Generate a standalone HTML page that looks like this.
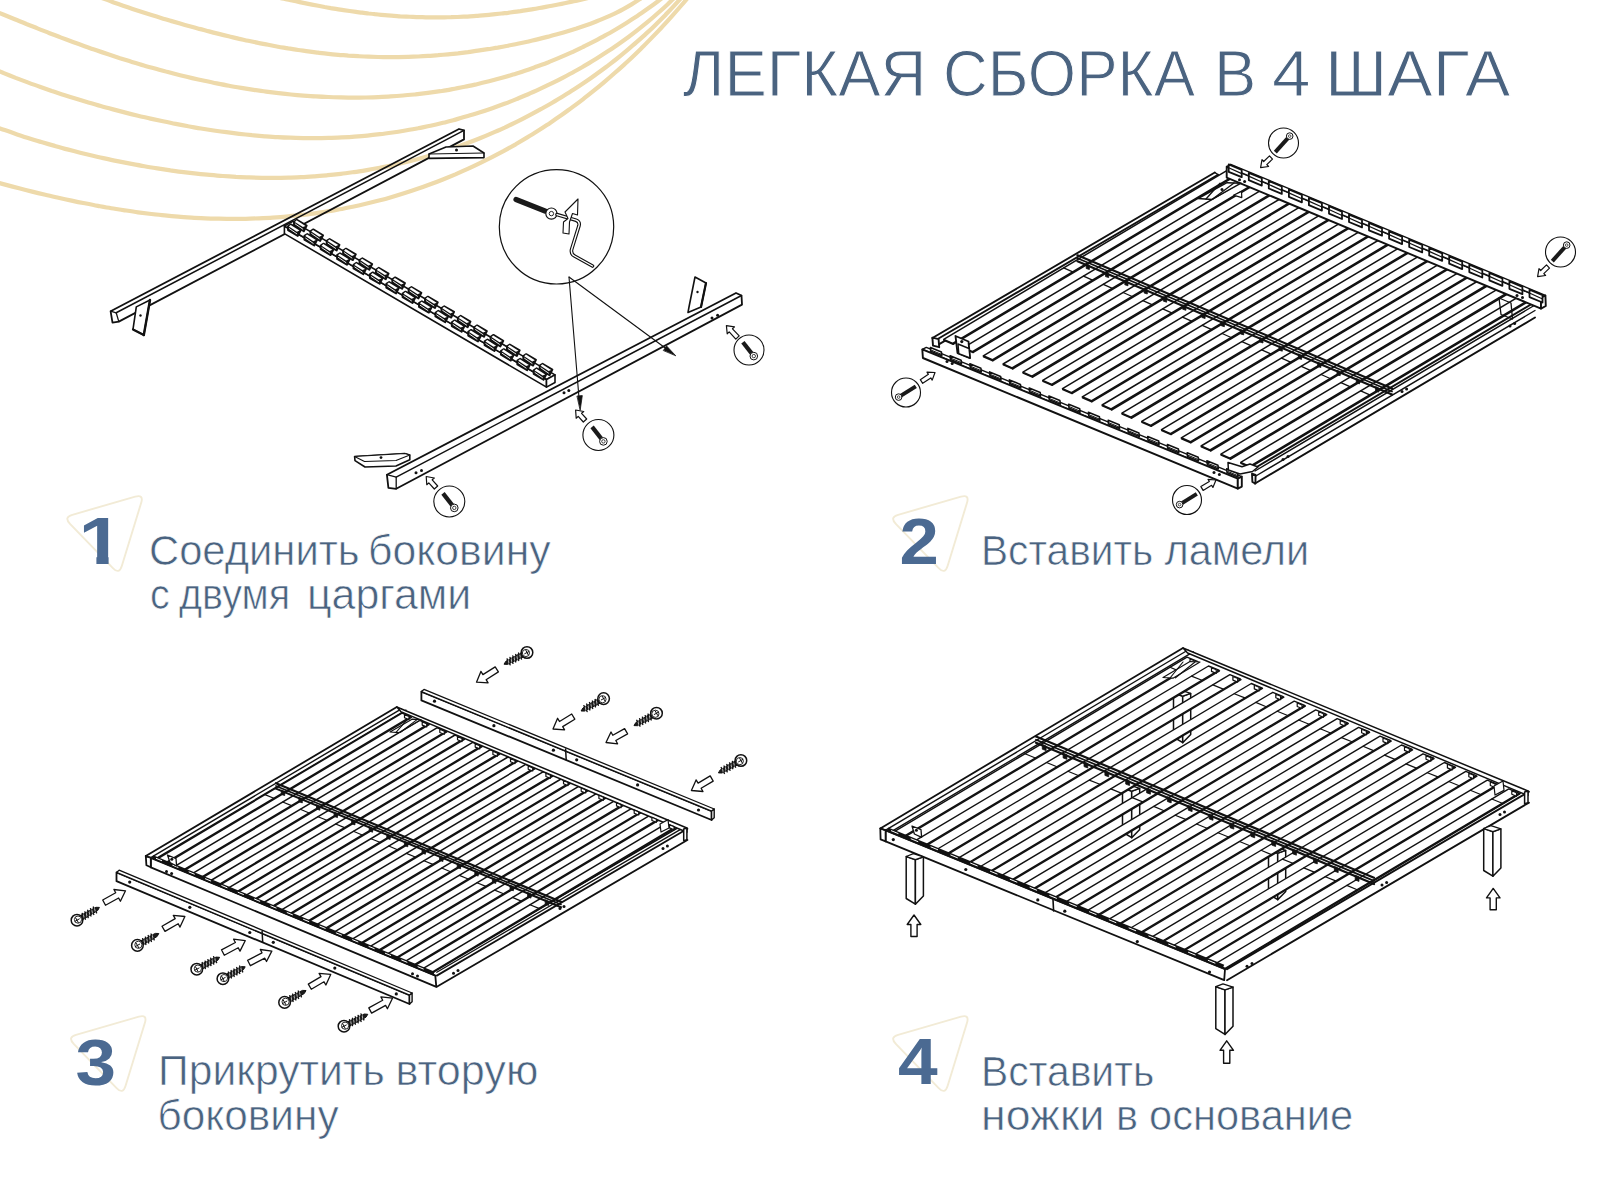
<!DOCTYPE html>
<html lang="ru"><head><meta charset="utf-8"><title>Легкая сборка в 4 шага</title>
<style>
html,body{margin:0;padding:0;background:#fff;}
body{width:1600px;height:1200px;overflow:hidden;}
svg{display:block;font-family:"Liberation Sans",sans-serif;}
</style></head><body>
<svg width="1600" height="1200" viewBox="0 0 1600 1200">
<rect width="1600" height="1200" fill="#ffffff"/>
<g fill="none" stroke="#eedaab" stroke-width="4.2" stroke-linecap="round">
<path d="M-20.0 177.8 C-17.8 178.4 -11.3 180.2 -6.9 181.4 C-2.6 182.6 1.7 183.7 6.1 184.9 C10.4 186.0 14.8 187.2 19.1 188.3 C23.5 189.4 27.8 190.5 32.2 191.6 C36.6 192.7 40.9 193.7 45.3 194.7 C49.7 195.8 54.1 196.8 58.4 197.8 C62.8 198.7 67.2 199.7 71.6 200.6 C76.0 201.6 80.4 202.5 84.8 203.3 C89.2 204.2 93.6 205.1 98.0 205.9 C102.5 206.7 106.9 207.5 111.3 208.2 C115.8 208.9 120.2 209.7 124.6 210.3 C129.1 211.0 133.5 211.7 138.0 212.3 C142.4 212.9 146.9 213.4 151.4 214.0 C155.8 214.5 160.3 215.0 164.8 215.4 C169.3 215.9 173.7 216.3 178.2 216.6 C182.7 217.0 187.2 217.3 191.7 217.6 C196.2 217.9 200.7 218.1 205.2 218.3 C209.7 218.5 214.2 218.6 218.7 218.7 C223.2 218.8 227.6 218.9 232.1 218.9 C236.6 218.9 241.1 218.9 245.6 218.8 C250.1 218.7 254.6 218.5 259.1 218.3 C263.6 218.1 268.1 217.9 272.6 217.6 C277.1 217.3 281.6 217.0 286.0 216.6 C290.5 216.2 295.0 215.7 299.5 215.2 C303.9 214.7 308.4 214.2 312.8 213.6 C317.3 213.0 321.7 212.3 326.2 211.6 C330.6 210.9 335.0 210.1 339.5 209.3 C343.9 208.5 348.3 207.6 352.7 206.7 C357.1 205.8 361.5 204.8 365.8 203.8 C370.2 202.7 374.6 201.6 378.9 200.5 C383.3 199.4 387.6 198.2 391.9 196.9 C396.2 195.7 400.5 194.4 404.8 193.0 C409.1 191.7 413.4 190.3 417.6 188.8 C421.9 187.4 426.1 185.9 430.3 184.3 C434.5 182.8 438.7 181.2 442.9 179.5 C447.1 177.8 451.3 176.1 455.4 174.4 C459.5 172.6 463.6 170.8 467.7 168.9 C471.8 167.1 475.9 165.2 479.9 163.2 C484.0 161.2 488.0 159.2 492.0 157.2 C496.0 155.1 500.0 153.0 503.9 150.9 C507.9 148.7 511.8 146.5 515.7 144.3 C519.6 142.0 523.5 139.7 527.3 137.4 C531.2 135.1 535.0 132.7 538.8 130.3 C542.6 127.9 546.3 125.4 550.1 122.9 C553.8 120.4 557.5 117.8 561.2 115.3 C564.9 112.7 568.5 110.0 572.1 107.4 C575.8 104.7 579.4 102.0 582.9 99.3 C586.5 96.5 590.0 93.7 593.5 90.9 C597.0 88.1 600.5 85.2 603.9 82.3 C607.4 79.4 610.8 76.5 614.1 73.5 C617.5 70.6 620.9 67.6 624.2 64.6 C627.5 61.5 630.8 58.5 634.0 55.4 C637.3 52.3 640.5 49.1 643.7 46.0 C646.9 42.8 650.0 39.6 653.1 36.4 C656.3 33.1 659.4 29.9 662.4 26.6 C665.5 23.3 668.5 20.0 671.5 16.6 C674.5 13.3 677.5 9.9 680.4 6.5 C683.4 3.1 686.3 -0.3 689.1 -3.8 C692.0 -7.3 696.2 -12.6 697.7 -14.3"/>
<path d="M-20.0 120.8 C-17.9 121.6 -11.8 124.1 -7.7 125.6 C-3.5 127.2 0.6 128.7 4.7 130.1 C8.9 131.6 13.0 133.0 17.1 134.4 C21.3 135.8 25.5 137.2 29.6 138.5 C33.8 139.8 38.0 141.1 42.2 142.3 C46.4 143.6 50.6 144.8 54.8 145.9 C59.0 147.1 63.2 148.3 67.4 149.4 C71.7 150.5 75.9 151.6 80.2 152.7 C84.4 153.7 88.7 154.7 92.9 155.7 C97.2 156.7 101.5 157.7 105.7 158.6 C110.0 159.6 114.3 160.5 118.6 161.4 C122.9 162.2 127.2 163.1 131.5 163.9 C135.8 164.7 140.1 165.5 144.4 166.2 C148.8 167.0 153.1 167.7 157.4 168.4 C161.8 169.1 166.1 169.7 170.4 170.4 C174.8 171.0 179.1 171.6 183.5 172.1 C187.8 172.7 192.2 173.2 196.6 173.6 C200.9 174.1 205.3 174.6 209.7 174.9 C214.0 175.3 218.4 175.7 222.8 176.0 C227.2 176.3 231.5 176.6 235.9 176.9 C240.3 177.1 244.7 177.3 249.1 177.4 C253.4 177.6 257.8 177.7 262.2 177.8 C266.6 177.8 271.0 177.8 275.3 177.8 C279.7 177.8 284.1 177.7 288.5 177.6 C292.9 177.5 297.2 177.3 301.6 177.1 C306.0 176.9 310.3 176.6 314.7 176.3 C319.1 176.0 323.4 175.6 327.8 175.2 C332.1 174.8 336.5 174.3 340.8 173.8 C345.2 173.3 349.5 172.7 353.9 172.1 C358.2 171.5 362.5 170.8 366.8 170.1 C371.1 169.4 375.5 168.6 379.8 167.8 C384.1 167.0 388.3 166.1 392.6 165.2 C396.9 164.2 401.2 163.2 405.4 162.2 C409.7 161.2 413.9 160.1 418.2 158.9 C422.4 157.8 426.6 156.6 430.8 155.4 C435.0 154.1 439.2 152.8 443.4 151.5 C447.6 150.2 451.7 148.8 455.9 147.3 C460.0 145.9 464.1 144.4 468.2 142.8 C472.3 141.3 476.4 139.7 480.5 138.0 C484.6 136.4 488.6 134.7 492.6 132.9 C496.7 131.2 500.7 129.4 504.7 127.6 C508.7 125.7 512.6 123.8 516.6 121.9 C520.5 120.0 524.4 118.0 528.3 115.9 C532.2 113.9 536.1 111.8 539.9 109.7 C543.8 107.6 547.6 105.4 551.4 103.2 C555.2 101.0 559.0 98.8 562.7 96.5 C566.4 94.2 570.1 91.9 573.8 89.5 C577.5 87.1 581.1 84.7 584.8 82.2 C588.4 79.8 592.0 77.3 595.5 74.7 C599.1 72.2 602.6 69.6 606.1 67.0 C609.6 64.3 613.1 61.7 616.5 59.0 C619.9 56.2 623.3 53.5 626.7 50.7 C630.0 47.9 633.3 45.1 636.6 42.2 C639.9 39.3 643.2 36.4 646.4 33.4 C649.6 30.5 652.8 27.5 655.9 24.4 C659.0 21.4 662.1 18.3 665.2 15.2 C668.2 12.0 671.3 8.8 674.2 5.6 C677.2 2.4 680.2 -0.9 683.1 -4.3 C686.0 -7.6 690.2 -12.8 691.6 -14.4"/>
<path d="M-20.0 62.7 C-18.0 63.6 -12.1 66.3 -8.1 68.0 C-4.2 69.8 -0.2 71.4 3.8 73.1 C7.8 74.7 11.7 76.3 15.7 77.9 C19.7 79.4 23.7 80.9 27.7 82.4 C31.7 83.9 35.7 85.4 39.8 86.8 C43.8 88.2 47.8 89.6 51.8 91.0 C55.9 92.3 59.9 93.7 64.0 95.0 C68.0 96.3 72.1 97.6 76.2 98.8 C80.3 100.1 84.3 101.3 88.4 102.5 C92.5 103.7 96.6 104.9 100.7 106.0 C104.9 107.2 109.0 108.3 113.1 109.4 C117.2 110.5 121.4 111.6 125.5 112.6 C129.7 113.7 133.8 114.7 138.0 115.7 C142.1 116.7 146.3 117.6 150.5 118.6 C154.7 119.5 158.9 120.4 163.0 121.3 C167.2 122.2 171.4 123.1 175.7 123.9 C179.9 124.7 184.1 125.5 188.3 126.3 C192.5 127.0 196.7 127.8 201.0 128.5 C205.2 129.2 209.4 129.8 213.7 130.5 C217.9 131.1 222.2 131.7 226.4 132.2 C230.7 132.8 234.9 133.3 239.2 133.8 C243.5 134.3 247.7 134.7 252.0 135.2 C256.2 135.6 260.5 135.9 264.8 136.3 C269.1 136.6 273.3 136.9 277.6 137.1 C281.9 137.4 286.2 137.6 290.4 137.7 C294.7 137.9 299.0 138.0 303.3 138.1 C307.5 138.1 311.8 138.2 316.1 138.1 C320.4 138.1 324.6 138.0 328.9 137.9 C333.2 137.8 337.5 137.6 341.7 137.4 C346.0 137.2 350.3 137.0 354.5 136.6 C358.8 136.3 363.0 136.0 367.3 135.6 C371.5 135.2 375.8 134.7 380.0 134.2 C384.3 133.7 388.5 133.1 392.7 132.5 C396.9 131.9 401.2 131.2 405.4 130.5 C409.6 129.8 413.8 129.1 418.0 128.3 C422.2 127.4 426.4 126.6 430.5 125.7 C434.7 124.8 438.9 123.8 443.0 122.8 C447.2 121.8 451.3 120.7 455.5 119.6 C459.6 118.5 463.7 117.3 467.8 116.1 C471.9 114.9 476.0 113.6 480.1 112.3 C484.2 111.0 488.3 109.6 492.3 108.2 C496.3 106.8 500.4 105.3 504.4 103.8 C508.4 102.3 512.4 100.7 516.4 99.1 C520.3 97.5 524.3 95.9 528.2 94.2 C532.2 92.5 536.1 90.7 540.0 88.9 C543.9 87.1 547.8 85.3 551.6 83.4 C555.5 81.5 559.3 79.6 563.1 77.6 C566.9 75.6 570.7 73.6 574.4 71.5 C578.2 69.5 581.9 67.3 585.6 65.2 C589.3 63.0 593.0 60.8 596.6 58.5 C600.2 56.3 603.8 54.0 607.4 51.6 C611.0 49.3 614.5 46.9 618.0 44.5 C621.5 42.0 625.0 39.5 628.5 37.0 C631.9 34.5 635.3 31.9 638.7 29.2 C642.0 26.6 645.3 23.9 648.6 21.2 C651.9 18.5 655.1 15.7 658.3 12.8 C661.5 10.0 664.7 7.1 667.8 4.2 C670.9 1.2 673.9 -1.8 676.9 -4.9 C679.9 -7.9 684.3 -12.7 685.8 -14.2"/>
<path d="M-20.0 4.8 C-18.1 5.6 -12.3 8.1 -8.4 9.7 C-4.5 11.3 -0.6 12.9 3.2 14.5 C7.1 16.1 11.0 17.7 14.8 19.3 C18.7 20.9 22.6 22.4 26.4 24.0 C30.3 25.5 34.1 27.1 38.0 28.6 C41.9 30.1 45.7 31.7 49.6 33.2 C53.5 34.7 57.4 36.1 61.2 37.6 C65.1 39.1 69.0 40.5 72.9 42.0 C76.8 43.4 80.7 44.8 84.6 46.2 C88.5 47.6 92.4 49.0 96.4 50.3 C100.3 51.7 104.2 53.0 108.2 54.3 C112.1 55.6 116.1 56.9 120.0 58.2 C124.0 59.4 127.9 60.7 131.9 61.9 C135.9 63.1 139.9 64.3 143.9 65.4 C147.9 66.6 151.9 67.7 155.9 68.8 C159.9 70.0 163.9 71.0 167.9 72.1 C172.0 73.2 176.0 74.2 180.1 75.2 C184.1 76.2 188.2 77.2 192.2 78.1 C196.3 79.0 200.3 79.9 204.4 80.8 C208.5 81.7 212.6 82.6 216.7 83.4 C220.8 84.2 224.9 85.0 229.0 85.7 C233.1 86.5 237.2 87.2 241.3 87.9 C245.4 88.6 249.5 89.2 253.7 89.9 C257.8 90.5 261.9 91.1 266.1 91.6 C270.2 92.2 274.3 92.7 278.5 93.1 C282.6 93.6 286.8 94.1 290.9 94.5 C295.1 94.9 299.2 95.2 303.4 95.6 C307.5 95.9 311.7 96.2 315.8 96.4 C320.0 96.7 324.2 96.9 328.3 97.0 C332.5 97.2 336.6 97.3 340.8 97.4 C345.0 97.5 349.1 97.6 353.3 97.6 C357.4 97.6 361.6 97.5 365.7 97.5 C369.9 97.4 374.1 97.3 378.2 97.1 C382.4 96.9 386.5 96.7 390.6 96.4 C394.8 96.2 398.9 95.9 403.1 95.5 C407.2 95.2 411.3 94.8 415.5 94.4 C419.6 93.9 423.7 93.4 427.8 92.9 C431.9 92.4 436.1 91.8 440.2 91.2 C444.3 90.5 448.4 89.9 452.4 89.1 C456.5 88.4 460.6 87.6 464.7 86.8 C468.8 86.0 472.8 85.1 476.9 84.2 C480.9 83.3 485.0 82.3 489.0 81.3 C493.0 80.3 497.1 79.2 501.1 78.1 C505.1 77.0 509.1 75.8 513.0 74.6 C517.0 73.3 521.0 72.1 524.9 70.7 C528.9 69.4 532.8 68.0 536.8 66.6 C540.7 65.2 544.6 63.7 548.5 62.2 C552.4 60.6 556.2 59.1 560.1 57.4 C563.9 55.8 567.8 54.1 571.6 52.4 C575.4 50.6 579.2 48.9 582.9 47.0 C586.7 45.2 590.4 43.3 594.1 41.4 C597.9 39.4 601.5 37.5 605.2 35.4 C608.9 33.4 612.5 31.3 616.1 29.2 C619.7 27.1 623.3 24.9 626.8 22.7 C630.3 20.4 633.8 18.2 637.3 15.9 C640.8 13.6 644.2 11.2 647.6 8.8 C651.0 6.4 654.3 4.0 657.6 1.5 C660.9 -1.0 664.2 -3.5 667.4 -6.0 C670.6 -8.6 675.3 -12.5 676.9 -13.8"/>
<path d="M84.9 -8.5 C86.5 -7.9 91.3 -5.9 94.6 -4.7 C97.8 -3.5 101.0 -2.3 104.1 -1.1 C107.3 0.1 110.5 1.3 113.7 2.4 C116.8 3.5 120.0 4.6 123.1 5.7 C126.3 6.8 129.4 7.8 132.6 8.9 C135.7 9.9 138.9 11.0 142.0 12.0 C145.2 13.0 148.3 14.0 151.5 15.0 C154.6 16.0 157.8 17.0 161.0 17.9 C164.1 18.9 167.3 19.8 170.5 20.8 C173.7 21.7 176.9 22.6 180.1 23.5 C183.3 24.5 186.5 25.4 189.7 26.2 C192.9 27.1 196.1 28.0 199.3 28.9 C202.6 29.7 205.8 30.6 209.0 31.4 C212.3 32.3 215.5 33.1 218.8 33.9 C222.1 34.7 225.3 35.5 228.6 36.3 C231.9 37.1 235.2 37.8 238.4 38.6 C241.7 39.3 245.0 40.1 248.3 40.8 C251.6 41.5 254.9 42.2 258.3 42.9 C261.6 43.5 264.9 44.2 268.2 44.8 C271.5 45.5 274.9 46.1 278.2 46.7 C281.5 47.3 284.8 47.8 288.2 48.4 C291.5 48.9 294.8 49.5 298.2 50.0 C301.5 50.5 304.9 50.9 308.2 51.4 C311.5 51.9 314.9 52.3 318.2 52.7 C321.6 53.1 324.9 53.5 328.3 53.8 C331.6 54.2 334.9 54.5 338.3 54.8 C341.6 55.1 345.0 55.3 348.3 55.6 C351.6 55.8 355.0 56.0 358.3 56.2 C361.7 56.4 365.0 56.6 368.3 56.7 C371.7 56.8 375.0 56.9 378.3 57.0 C381.7 57.0 385.0 57.1 388.3 57.1 C391.6 57.1 395.0 57.1 398.3 57.1 C401.6 57.0 404.9 56.9 408.3 56.8 C411.6 56.7 414.9 56.6 418.2 56.5 C421.5 56.3 424.9 56.1 428.2 55.9 C431.5 55.7 434.8 55.4 438.1 55.2 C441.4 54.9 444.8 54.6 448.1 54.3 C451.4 54.0 454.7 53.6 458.0 53.3 C461.3 52.9 464.6 52.5 468.0 52.1 C471.3 51.6 474.6 51.2 477.9 50.7 C481.2 50.2 484.5 49.7 487.8 49.2 C491.1 48.7 494.4 48.1 497.8 47.6 C501.1 47.0 504.4 46.4 507.7 45.8 C511.0 45.1 514.3 44.5 517.6 43.8 C520.9 43.1 524.2 42.4 527.5 41.7 C530.8 40.9 534.1 40.2 537.4 39.4 C540.7 38.6 544.0 37.8 547.3 36.9 C550.5 36.1 553.8 35.2 557.1 34.3 C560.3 33.4 563.6 32.5 566.8 31.5 C570.1 30.5 573.3 29.5 576.5 28.5 C579.7 27.4 582.9 26.3 586.1 25.2 C589.3 24.1 592.5 22.9 595.6 21.7 C598.7 20.5 601.8 19.2 604.9 17.9 C608.0 16.6 611.0 15.2 614.0 13.8 C617.0 12.3 620.0 10.9 622.9 9.3 C625.9 7.7 628.8 6.1 631.6 4.4 C634.4 2.7 637.2 0.9 639.9 -0.9 C642.6 -2.8 645.2 -4.7 647.8 -6.8 C650.4 -8.8 654.0 -12.2 655.3 -13.2"/>
<path d="M250.0 -9.1 C251.1 -8.8 254.1 -8.1 256.2 -7.6 C258.2 -7.1 260.3 -6.6 262.4 -6.1 C264.4 -5.7 266.5 -5.2 268.5 -4.7 C270.6 -4.2 272.6 -3.7 274.7 -3.3 C276.8 -2.8 278.8 -2.3 280.9 -1.9 C283.0 -1.4 285.0 -1.0 287.1 -0.5 C289.2 -0.1 291.3 0.4 293.3 0.8 C295.4 1.3 297.5 1.7 299.6 2.1 C301.6 2.6 303.7 3.0 305.8 3.4 C307.9 3.8 310.0 4.2 312.0 4.6 C314.1 5.0 316.2 5.4 318.3 5.8 C320.4 6.2 322.5 6.6 324.6 7.0 C326.6 7.3 328.7 7.7 330.8 8.1 C332.9 8.4 335.0 8.8 337.1 9.1 C339.2 9.4 341.3 9.8 343.4 10.1 C345.5 10.4 347.6 10.7 349.7 11.0 C351.8 11.3 353.9 11.6 356.0 11.9 C358.1 12.2 360.2 12.4 362.3 12.7 C364.4 13.0 366.5 13.2 368.6 13.5 C370.7 13.7 372.8 13.9 374.9 14.2 C377.0 14.4 379.1 14.6 381.2 14.8 C383.3 15.0 385.4 15.2 387.6 15.3 C389.7 15.5 391.8 15.7 393.9 15.8 C396.0 16.0 398.1 16.1 400.2 16.3 C402.3 16.4 404.4 16.5 406.6 16.6 C408.7 16.7 410.8 16.8 412.9 16.9 C415.0 17.0 417.1 17.1 419.2 17.1 C421.3 17.2 423.5 17.2 425.6 17.3 C427.7 17.3 429.8 17.3 431.9 17.4 C434.0 17.4 436.1 17.4 438.3 17.4 C440.4 17.4 442.5 17.3 444.6 17.3 C446.7 17.3 448.8 17.2 451.0 17.2 C453.1 17.1 455.2 17.0 457.3 17.0 C459.4 16.9 461.5 16.8 463.6 16.7 C465.7 16.6 467.9 16.5 470.0 16.3 C472.1 16.2 474.2 16.1 476.3 15.9 C478.4 15.7 480.5 15.6 482.6 15.4 C484.8 15.2 486.9 15.0 489.0 14.8 C491.1 14.7 493.2 14.4 495.3 14.2 C497.4 14.0 499.5 13.8 501.6 13.5 C503.7 13.3 505.8 13.0 507.9 12.8 C510.0 12.5 512.1 12.2 514.2 11.9 C516.3 11.7 518.4 11.4 520.5 11.1 C522.6 10.7 524.7 10.4 526.8 10.1 C528.9 9.8 531.0 9.4 533.1 9.1 C535.2 8.8 537.3 8.4 539.4 8.0 C541.5 7.7 543.6 7.3 545.7 6.9 C547.8 6.5 549.8 6.1 551.9 5.7 C554.0 5.3 556.1 4.9 558.2 4.5 C560.3 4.1 562.3 3.7 564.4 3.2 C566.5 2.8 568.6 2.4 570.6 1.9 C572.7 1.5 574.8 1.0 576.9 0.6 C578.9 0.1 581.0 -0.4 583.1 -0.9 C585.1 -1.3 587.2 -1.8 589.3 -2.3 C591.3 -2.8 593.4 -3.3 595.4 -3.8 C597.5 -4.3 599.5 -4.8 601.6 -5.3 C603.6 -5.8 605.7 -6.3 607.7 -6.8 C609.8 -7.3 611.8 -7.8 613.9 -8.4 C615.9 -8.9 619.0 -9.7 620.0 -10.0"/>
</g>
<path d="M70.0 523.8 Q63.7 517.3 72.3 514.8 L135.2 496.7 Q143.8 494.2 141.2 502.8 L121.8 566.0 Q119.2 574.6 112.9 568.1 Z" fill="none" stroke="#f2ebd6" stroke-width="1.9"/>
<path d="M895.8 523.8 Q889.5 517.3 898.1 514.8 L961.0 496.7 Q969.6 494.2 967.0 502.8 L947.6 566.0 Q945.0 574.6 938.7 568.1 Z" fill="none" stroke="#f2ebd6" stroke-width="1.9"/>
<path d="M73.7 1043.8 Q67.4 1037.3 76.0 1034.8 L138.9 1016.7 Q147.5 1014.2 144.9 1022.8 L125.5 1086.0 Q122.9 1094.6 116.6 1088.1 Z" fill="none" stroke="#f2ebd6" stroke-width="1.9"/>
<path d="M895.8 1043.8 Q889.5 1037.3 898.1 1034.8 L961.0 1016.7 Q969.6 1014.2 967.0 1022.8 L947.6 1086.0 Q945.0 1094.6 938.7 1088.1 Z" fill="none" stroke="#f2ebd6" stroke-width="1.9"/>
<clipPath id="c1"><rect x="60" y="500" width="80" height="56.4"/><rect x="96.4" y="556" width="12.2" height="10"/></clipPath>
<text x="78.6" y="564.2" font-size="66.7" font-weight="bold" fill="#4b6a92" textLength="44.5" lengthAdjust="spacingAndGlyphs" clip-path="url(#c1)">1</text>
<text x="682.8" y="96.0" font-size="64.0" font-weight="normal" fill="#4a6380" textLength="243.5" lengthAdjust="spacingAndGlyphs" stroke="#fff" stroke-width="1.00">ЛЕГКАЯ</text>
<text x="943.0" y="96.0" font-size="64.0" font-weight="normal" fill="#4a6380" textLength="252.1" lengthAdjust="spacingAndGlyphs" stroke="#fff" stroke-width="1.00">СБОРКА</text>
<text x="1214.0" y="96.0" font-size="64.0" font-weight="normal" fill="#4a6380" textLength="42.3" lengthAdjust="spacingAndGlyphs" stroke="#fff" stroke-width="1.00">В</text>
<text x="1272.0" y="96.0" font-size="64.0" font-weight="normal" fill="#4a6380" textLength="38.5" lengthAdjust="spacingAndGlyphs" stroke="#fff" stroke-width="1.00">4</text>
<text x="1325.0" y="96.0" font-size="64.0" font-weight="normal" fill="#4a6380" textLength="185.3" lengthAdjust="spacingAndGlyphs" stroke="#fff" stroke-width="1.00">ШАГА</text>
<text x="149.0" y="564.5" font-size="42.5" font-weight="normal" fill="#4a6380" textLength="210.6" lengthAdjust="spacingAndGlyphs" stroke="#fff" stroke-width="0.65">Соединить</text>
<text x="368.0" y="564.5" font-size="42.5" font-weight="normal" fill="#4a6380" textLength="182.6" lengthAdjust="spacingAndGlyphs" stroke="#fff" stroke-width="0.65">боковину</text>
<text x="150.0" y="609.0" font-size="42.5" font-weight="normal" fill="#4a6380" textLength="19.7" lengthAdjust="spacingAndGlyphs" stroke="#fff" stroke-width="0.65">с</text>
<text x="179.0" y="609.0" font-size="42.5" font-weight="normal" fill="#4a6380" textLength="111.1" lengthAdjust="spacingAndGlyphs" stroke="#fff" stroke-width="0.65">двумя</text>
<text x="307.0" y="609.0" font-size="42.5" font-weight="normal" fill="#4a6380" textLength="164.3" lengthAdjust="spacingAndGlyphs" stroke="#fff" stroke-width="0.65">царгами</text>
<text x="981.0" y="564.5" font-size="42.5" font-weight="normal" fill="#4a6380" textLength="172.2" lengthAdjust="spacingAndGlyphs" stroke="#fff" stroke-width="0.65">Вставить</text>
<text x="1164.5" y="564.5" font-size="42.5" font-weight="normal" fill="#4a6380" textLength="144.6" lengthAdjust="spacingAndGlyphs" stroke="#fff" stroke-width="0.65">ламели</text>
<text x="158.0" y="1085.2" font-size="42.5" font-weight="normal" fill="#4a6380" textLength="226.7" lengthAdjust="spacingAndGlyphs" stroke="#fff" stroke-width="0.65">Прикрутить</text>
<text x="395.5" y="1085.2" font-size="42.5" font-weight="normal" fill="#4a6380" textLength="142.8" lengthAdjust="spacingAndGlyphs" stroke="#fff" stroke-width="0.65">вторую</text>
<text x="157.5" y="1129.7" font-size="42.5" font-weight="normal" fill="#4a6380" textLength="181.1" lengthAdjust="spacingAndGlyphs" stroke="#fff" stroke-width="0.65">боковину</text>
<text x="981.0" y="1085.5" font-size="42.5" font-weight="normal" fill="#4a6380" textLength="173.2" lengthAdjust="spacingAndGlyphs" stroke="#fff" stroke-width="0.65">Вставить</text>
<text x="981.0" y="1130.0" font-size="42.5" font-weight="normal" fill="#4a6380" textLength="123.4" lengthAdjust="spacingAndGlyphs" stroke="#fff" stroke-width="0.65">ножки</text>
<text x="1116.0" y="1130.0" font-size="42.5" font-weight="normal" fill="#4a6380" textLength="22.0" lengthAdjust="spacingAndGlyphs" stroke="#fff" stroke-width="0.65">в</text>
<text x="1149.0" y="1130.0" font-size="42.5" font-weight="normal" fill="#4a6380" textLength="204.1" lengthAdjust="spacingAndGlyphs" stroke="#fff" stroke-width="0.65">основание</text>
<text x="899.5" y="564.2" font-size="65.0" font-weight="bold" fill="#4b6a92" textLength="39.3" lengthAdjust="spacingAndGlyphs">2</text>
<text x="75.5" y="1084.9" font-size="65.0" font-weight="bold" fill="#4b6a92" textLength="40.5" lengthAdjust="spacingAndGlyphs">3</text>
<text x="898.0" y="1084.2" font-size="65.0" font-weight="bold" fill="#4b6a92" textLength="39.7" lengthAdjust="spacingAndGlyphs">4</text>
<g id="step1">
<path d="M110.6 311.2 L459.0 129.0 L464.0 130.4 L464.0 139.4 L118.8 321.6 L112.5 322.6 Z" fill="none" stroke="#111" stroke-width="1.80" stroke-linejoin="round" stroke-linecap="round"/>
<line x1="116.2" y1="312.8" x2="464.0" y2="130.4" stroke="#111" stroke-width="1.53" stroke-linecap="round"/>
<path d="M110.6 311.2 L116.2 312.8 L118.8 321.6" fill="none" stroke="#111" stroke-width="1.30" stroke-linejoin="round" stroke-linecap="round"/>
<path d="M429.0 154.0 L446.0 147.0 L473.0 146.0 L484.0 153.0 L484.0 157.6 L429.0 158.4 Z" fill="#fff" stroke="#111" stroke-width="1.60" stroke-linejoin="round" stroke-linecap="round"/>
<line x1="429.0" y1="154.0" x2="484.0" y2="153.0" stroke="#111" stroke-width="1.10" stroke-linecap="round"/>
<circle cx="456.5" cy="150.0" r="1.5" fill="#111"/>
<path d="M136.3 306.9 L150.0 300.0 L143.8 335.0 L133.0 329.4 Z" fill="#fff" stroke="#111" stroke-width="1.60" stroke-linejoin="round" stroke-linecap="round"/>
<line x1="150.0" y1="300.0" x2="143.8" y2="335.0" stroke="#111" stroke-width="2.40" stroke-linecap="round"/>
<line x1="133.0" y1="329.4" x2="143.8" y2="335.0" stroke="#111" stroke-width="2.20" stroke-linecap="round"/>
<circle cx="140.5" cy="315.5" r="1.2" fill="#111"/>
<path d="M284.4 226.0 L546.5 379.5 L546.5 387.1 L284.4 233.6 Z" fill="#fff" stroke="#111" stroke-width="1.60" stroke-linejoin="round" stroke-linecap="round"/>
<path d="M284.4 226.0 L546.5 379.5 L555.0 374.9 L292.9 221.4 Z" fill="#fff" stroke="#111" stroke-width="1.60" stroke-linejoin="round" stroke-linecap="round"/>
<path d="M546.5 379.5 L555.0 374.9 L555.0 382.5 L546.5 387.1 Z" fill="#fff" stroke="#111" stroke-width="1.60" stroke-linejoin="round" stroke-linecap="round"/>
<path d="M294.0 221.7 L296.9 219.8 L306.7 225.6 L303.8 231.3 L294.0 225.5 Z" fill="#111" stroke="#111" stroke-width="1.90" stroke-linejoin="round" stroke-linecap="round"/>
<path d="M294.9 221.9 L296.6 220.3 L305.5 226.0 L302.9 227.1 Z" fill="#fff" stroke="none" stroke-width="0.00" stroke-linejoin="round" stroke-linecap="round"/>
<line x1="295.3" y1="224.0" x2="302.8" y2="229.2" stroke="#fff" stroke-width="0.90" stroke-linecap="round"/>
<path d="M288.0 226.3 L290.9 224.4 L300.7 230.2 L297.8 235.9 L288.0 230.1 Z" fill="#111" stroke="#111" stroke-width="1.90" stroke-linejoin="round" stroke-linecap="round"/>
<path d="M288.9 226.5 L290.6 224.9 L299.5 230.6 L296.9 231.7 Z" fill="#fff" stroke="none" stroke-width="0.00" stroke-linejoin="round" stroke-linecap="round"/>
<line x1="289.3" y1="228.6" x2="296.8" y2="233.8" stroke="#fff" stroke-width="0.90" stroke-linecap="round"/>
<path d="M310.4 231.3 L313.3 229.4 L323.1 235.2 L320.2 240.9 L310.4 235.1 Z" fill="#111" stroke="#111" stroke-width="1.90" stroke-linejoin="round" stroke-linecap="round"/>
<path d="M311.3 231.5 L313.0 229.9 L321.9 235.5 L319.3 236.7 Z" fill="#fff" stroke="none" stroke-width="0.00" stroke-linejoin="round" stroke-linecap="round"/>
<line x1="311.7" y1="233.6" x2="319.2" y2="238.8" stroke="#fff" stroke-width="0.90" stroke-linecap="round"/>
<path d="M304.4 235.9 L307.3 234.0 L317.1 239.8 L314.2 245.5 L304.4 239.7 Z" fill="#111" stroke="#111" stroke-width="1.90" stroke-linejoin="round" stroke-linecap="round"/>
<path d="M305.3 236.1 L307.0 234.5 L315.9 240.1 L313.3 241.3 Z" fill="#fff" stroke="none" stroke-width="0.00" stroke-linejoin="round" stroke-linecap="round"/>
<line x1="305.7" y1="238.2" x2="313.2" y2="243.4" stroke="#fff" stroke-width="0.90" stroke-linecap="round"/>
<path d="M326.7 240.9 L329.6 239.0 L339.5 244.8 L336.6 250.5 L326.7 244.7 Z" fill="#111" stroke="#111" stroke-width="1.90" stroke-linejoin="round" stroke-linecap="round"/>
<path d="M327.6 241.1 L329.3 239.5 L338.3 245.1 L335.7 246.3 Z" fill="#fff" stroke="none" stroke-width="0.00" stroke-linejoin="round" stroke-linecap="round"/>
<line x1="328.0" y1="243.2" x2="335.6" y2="248.4" stroke="#fff" stroke-width="0.90" stroke-linecap="round"/>
<path d="M320.7 245.5 L323.6 243.6 L333.5 249.4 L330.6 255.1 L320.7 249.3 Z" fill="#111" stroke="#111" stroke-width="1.90" stroke-linejoin="round" stroke-linecap="round"/>
<path d="M321.6 245.7 L323.3 244.1 L332.3 249.7 L329.7 250.9 Z" fill="#fff" stroke="none" stroke-width="0.00" stroke-linejoin="round" stroke-linecap="round"/>
<line x1="322.0" y1="247.8" x2="329.6" y2="253.0" stroke="#fff" stroke-width="0.90" stroke-linecap="round"/>
<path d="M343.1 250.5 L346.0 248.6 L355.8 254.4 L352.9 260.1 L343.1 254.3 Z" fill="#111" stroke="#111" stroke-width="1.90" stroke-linejoin="round" stroke-linecap="round"/>
<path d="M344.0 250.7 L345.7 249.1 L354.7 254.7 L352.0 255.9 Z" fill="#fff" stroke="none" stroke-width="0.00" stroke-linejoin="round" stroke-linecap="round"/>
<line x1="344.4" y1="252.8" x2="351.9" y2="258.0" stroke="#fff" stroke-width="0.90" stroke-linecap="round"/>
<path d="M337.1 255.1 L340.0 253.2 L349.8 259.0 L346.9 264.7 L337.1 258.9 Z" fill="#111" stroke="#111" stroke-width="1.90" stroke-linejoin="round" stroke-linecap="round"/>
<path d="M338.0 255.3 L339.7 253.7 L348.7 259.3 L346.0 260.5 Z" fill="#fff" stroke="none" stroke-width="0.00" stroke-linejoin="round" stroke-linecap="round"/>
<line x1="338.4" y1="257.4" x2="345.9" y2="262.6" stroke="#fff" stroke-width="0.90" stroke-linecap="round"/>
<path d="M359.5 260.1 L362.4 258.2 L372.2 264.0 L369.3 269.7 L359.5 263.9 Z" fill="#111" stroke="#111" stroke-width="1.90" stroke-linejoin="round" stroke-linecap="round"/>
<path d="M360.4 260.3 L362.1 258.7 L371.1 264.3 L368.4 265.5 Z" fill="#fff" stroke="none" stroke-width="0.00" stroke-linejoin="round" stroke-linecap="round"/>
<line x1="360.8" y1="262.4" x2="368.3" y2="267.6" stroke="#fff" stroke-width="0.90" stroke-linecap="round"/>
<path d="M353.5 264.7 L356.4 262.8 L366.2 268.6 L363.3 274.2 L353.5 268.5 Z" fill="#111" stroke="#111" stroke-width="1.90" stroke-linejoin="round" stroke-linecap="round"/>
<path d="M354.4 264.9 L356.1 263.3 L365.1 268.9 L362.4 270.1 Z" fill="#fff" stroke="none" stroke-width="0.00" stroke-linejoin="round" stroke-linecap="round"/>
<line x1="354.8" y1="267.0" x2="362.3" y2="272.1" stroke="#fff" stroke-width="0.90" stroke-linecap="round"/>
<path d="M375.9 269.7 L378.8 267.8 L388.6 273.5 L385.7 279.2 L375.9 273.5 Z" fill="#111" stroke="#111" stroke-width="1.90" stroke-linejoin="round" stroke-linecap="round"/>
<path d="M376.8 269.9 L378.5 268.3 L387.4 273.9 L384.8 275.0 Z" fill="#fff" stroke="none" stroke-width="0.00" stroke-linejoin="round" stroke-linecap="round"/>
<line x1="377.2" y1="272.0" x2="384.7" y2="277.1" stroke="#fff" stroke-width="0.90" stroke-linecap="round"/>
<path d="M369.9 274.3 L372.8 272.4 L382.6 278.1 L379.7 283.8 L369.9 278.1 Z" fill="#111" stroke="#111" stroke-width="1.90" stroke-linejoin="round" stroke-linecap="round"/>
<path d="M370.8 274.5 L372.5 272.9 L381.4 278.5 L378.8 279.6 Z" fill="#fff" stroke="none" stroke-width="0.00" stroke-linejoin="round" stroke-linecap="round"/>
<line x1="371.2" y1="276.6" x2="378.7" y2="281.7" stroke="#fff" stroke-width="0.90" stroke-linecap="round"/>
<path d="M392.3 279.3 L395.2 277.4 L405.0 283.1 L402.1 288.8 L392.3 283.1 Z" fill="#111" stroke="#111" stroke-width="1.90" stroke-linejoin="round" stroke-linecap="round"/>
<path d="M393.2 279.5 L394.9 277.9 L403.8 283.5 L401.2 284.6 Z" fill="#fff" stroke="none" stroke-width="0.00" stroke-linejoin="round" stroke-linecap="round"/>
<line x1="393.6" y1="281.6" x2="401.1" y2="286.7" stroke="#fff" stroke-width="0.90" stroke-linecap="round"/>
<path d="M386.3 283.9 L389.2 282.0 L399.0 287.7 L396.1 293.4 L386.3 287.7 Z" fill="#111" stroke="#111" stroke-width="1.90" stroke-linejoin="round" stroke-linecap="round"/>
<path d="M387.2 284.1 L388.9 282.5 L397.8 288.1 L395.2 289.2 Z" fill="#fff" stroke="none" stroke-width="0.00" stroke-linejoin="round" stroke-linecap="round"/>
<line x1="387.6" y1="286.2" x2="395.1" y2="291.3" stroke="#fff" stroke-width="0.90" stroke-linecap="round"/>
<path d="M408.6 288.9 L411.5 287.0 L421.4 292.7 L418.5 298.4 L408.6 292.7 Z" fill="#111" stroke="#111" stroke-width="1.90" stroke-linejoin="round" stroke-linecap="round"/>
<path d="M409.5 289.1 L411.3 287.5 L420.2 293.1 L417.6 294.2 Z" fill="#fff" stroke="none" stroke-width="0.00" stroke-linejoin="round" stroke-linecap="round"/>
<line x1="409.9" y1="291.2" x2="417.5" y2="296.3" stroke="#fff" stroke-width="0.90" stroke-linecap="round"/>
<path d="M402.6 293.5 L405.5 291.6 L415.4 297.3 L412.5 303.0 L402.6 297.3 Z" fill="#111" stroke="#111" stroke-width="1.90" stroke-linejoin="round" stroke-linecap="round"/>
<path d="M403.5 293.7 L405.3 292.1 L414.2 297.7 L411.6 298.8 Z" fill="#fff" stroke="none" stroke-width="0.00" stroke-linejoin="round" stroke-linecap="round"/>
<line x1="403.9" y1="295.8" x2="411.5" y2="300.9" stroke="#fff" stroke-width="0.90" stroke-linecap="round"/>
<path d="M425.0 298.5 L427.9 296.6 L437.8 302.3 L434.9 308.0 L425.0 302.3 Z" fill="#111" stroke="#111" stroke-width="1.90" stroke-linejoin="round" stroke-linecap="round"/>
<path d="M425.9 298.7 L427.6 297.1 L436.6 302.7 L434.0 303.8 Z" fill="#fff" stroke="none" stroke-width="0.00" stroke-linejoin="round" stroke-linecap="round"/>
<line x1="426.3" y1="300.8" x2="433.9" y2="305.9" stroke="#fff" stroke-width="0.90" stroke-linecap="round"/>
<path d="M419.0 303.1 L421.9 301.2 L431.8 306.9 L428.9 312.6 L419.0 306.9 Z" fill="#111" stroke="#111" stroke-width="1.90" stroke-linejoin="round" stroke-linecap="round"/>
<path d="M419.9 303.3 L421.6 301.7 L430.6 307.3 L428.0 308.4 Z" fill="#fff" stroke="none" stroke-width="0.00" stroke-linejoin="round" stroke-linecap="round"/>
<line x1="420.3" y1="305.4" x2="427.9" y2="310.5" stroke="#fff" stroke-width="0.90" stroke-linecap="round"/>
<path d="M441.4 308.1 L444.3 306.2 L454.1 311.9 L451.2 317.6 L441.4 311.9 Z" fill="#111" stroke="#111" stroke-width="1.90" stroke-linejoin="round" stroke-linecap="round"/>
<path d="M442.3 308.3 L444.0 306.7 L453.0 312.3 L450.3 313.4 Z" fill="#fff" stroke="none" stroke-width="0.00" stroke-linejoin="round" stroke-linecap="round"/>
<line x1="442.7" y1="310.4" x2="450.2" y2="315.5" stroke="#fff" stroke-width="0.90" stroke-linecap="round"/>
<path d="M435.4 312.7 L438.3 310.8 L448.1 316.5 L445.2 322.2 L435.4 316.5 Z" fill="#111" stroke="#111" stroke-width="1.90" stroke-linejoin="round" stroke-linecap="round"/>
<path d="M436.3 312.9 L438.0 311.3 L447.0 316.9 L444.3 318.0 Z" fill="#fff" stroke="none" stroke-width="0.00" stroke-linejoin="round" stroke-linecap="round"/>
<line x1="436.7" y1="315.0" x2="444.2" y2="320.1" stroke="#fff" stroke-width="0.90" stroke-linecap="round"/>
<path d="M457.8 317.7 L460.7 315.8 L470.5 321.5 L467.6 327.2 L457.8 321.5 Z" fill="#111" stroke="#111" stroke-width="1.90" stroke-linejoin="round" stroke-linecap="round"/>
<path d="M458.7 317.9 L460.4 316.2 L469.3 321.9 L466.7 323.0 Z" fill="#fff" stroke="none" stroke-width="0.00" stroke-linejoin="round" stroke-linecap="round"/>
<line x1="459.1" y1="320.0" x2="466.6" y2="325.1" stroke="#fff" stroke-width="0.90" stroke-linecap="round"/>
<path d="M451.8 322.3 L454.7 320.4 L464.5 326.1 L461.6 331.8 L451.8 326.1 Z" fill="#111" stroke="#111" stroke-width="1.90" stroke-linejoin="round" stroke-linecap="round"/>
<path d="M452.7 322.5 L454.4 320.8 L463.3 326.5 L460.7 327.6 Z" fill="#fff" stroke="none" stroke-width="0.00" stroke-linejoin="round" stroke-linecap="round"/>
<line x1="453.1" y1="324.6" x2="460.6" y2="329.7" stroke="#fff" stroke-width="0.90" stroke-linecap="round"/>
<path d="M474.2 327.2 L477.1 325.4 L486.9 331.1 L484.0 336.8 L474.2 331.1 Z" fill="#111" stroke="#111" stroke-width="1.90" stroke-linejoin="round" stroke-linecap="round"/>
<path d="M475.1 327.4 L476.8 325.8 L485.7 331.5 L483.1 332.6 Z" fill="#fff" stroke="none" stroke-width="0.00" stroke-linejoin="round" stroke-linecap="round"/>
<line x1="475.5" y1="329.6" x2="483.0" y2="334.7" stroke="#fff" stroke-width="0.90" stroke-linecap="round"/>
<path d="M468.2 331.8 L471.1 329.9 L480.9 335.7 L478.0 341.4 L468.2 335.6 Z" fill="#111" stroke="#111" stroke-width="1.90" stroke-linejoin="round" stroke-linecap="round"/>
<path d="M469.1 332.0 L470.8 330.4 L479.7 336.1 L477.1 337.2 Z" fill="#fff" stroke="none" stroke-width="0.00" stroke-linejoin="round" stroke-linecap="round"/>
<line x1="469.5" y1="334.1" x2="477.0" y2="339.3" stroke="#fff" stroke-width="0.90" stroke-linecap="round"/>
<path d="M490.6 336.8 L493.5 334.9 L503.3 340.7 L500.4 346.4 L490.6 340.6 Z" fill="#111" stroke="#111" stroke-width="1.90" stroke-linejoin="round" stroke-linecap="round"/>
<path d="M491.5 337.0 L493.2 335.4 L502.1 341.1 L499.5 342.2 Z" fill="#fff" stroke="none" stroke-width="0.00" stroke-linejoin="round" stroke-linecap="round"/>
<line x1="491.9" y1="339.1" x2="499.4" y2="344.3" stroke="#fff" stroke-width="0.90" stroke-linecap="round"/>
<path d="M484.6 341.4 L487.5 339.5 L497.3 345.3 L494.4 351.0 L484.6 345.2 Z" fill="#111" stroke="#111" stroke-width="1.90" stroke-linejoin="round" stroke-linecap="round"/>
<path d="M485.5 341.6 L487.2 340.0 L496.1 345.7 L493.5 346.8 Z" fill="#fff" stroke="none" stroke-width="0.00" stroke-linejoin="round" stroke-linecap="round"/>
<line x1="485.9" y1="343.7" x2="493.4" y2="348.9" stroke="#fff" stroke-width="0.90" stroke-linecap="round"/>
<path d="M506.9 346.4 L509.8 344.5 L519.7 350.3 L516.8 356.0 L506.9 350.2 Z" fill="#111" stroke="#111" stroke-width="1.90" stroke-linejoin="round" stroke-linecap="round"/>
<path d="M507.8 346.6 L509.5 345.0 L518.5 350.7 L515.9 351.8 Z" fill="#fff" stroke="none" stroke-width="0.00" stroke-linejoin="round" stroke-linecap="round"/>
<line x1="508.2" y1="348.7" x2="515.8" y2="353.9" stroke="#fff" stroke-width="0.90" stroke-linecap="round"/>
<path d="M500.9 351.0 L503.8 349.1 L513.7 354.9 L510.8 360.6 L500.9 354.8 Z" fill="#111" stroke="#111" stroke-width="1.90" stroke-linejoin="round" stroke-linecap="round"/>
<path d="M501.8 351.2 L503.5 349.6 L512.5 355.3 L509.9 356.4 Z" fill="#fff" stroke="none" stroke-width="0.00" stroke-linejoin="round" stroke-linecap="round"/>
<line x1="502.2" y1="353.3" x2="509.8" y2="358.5" stroke="#fff" stroke-width="0.90" stroke-linecap="round"/>
<path d="M523.3 356.0 L526.2 354.1 L536.0 359.9 L533.1 365.6 L523.3 359.8 Z" fill="#111" stroke="#111" stroke-width="1.90" stroke-linejoin="round" stroke-linecap="round"/>
<path d="M524.2 356.2 L525.9 354.6 L534.9 360.3 L532.2 361.4 Z" fill="#fff" stroke="none" stroke-width="0.00" stroke-linejoin="round" stroke-linecap="round"/>
<line x1="524.6" y1="358.3" x2="532.1" y2="363.5" stroke="#fff" stroke-width="0.90" stroke-linecap="round"/>
<path d="M517.3 360.6 L520.2 358.7 L530.0 364.5 L527.1 370.2 L517.3 364.4 Z" fill="#111" stroke="#111" stroke-width="1.90" stroke-linejoin="round" stroke-linecap="round"/>
<path d="M518.2 360.8 L519.9 359.2 L528.9 364.9 L526.2 366.0 Z" fill="#fff" stroke="none" stroke-width="0.00" stroke-linejoin="round" stroke-linecap="round"/>
<line x1="518.6" y1="362.9" x2="526.1" y2="368.1" stroke="#fff" stroke-width="0.90" stroke-linecap="round"/>
<path d="M539.7 365.6 L542.6 363.7 L552.4 369.5 L549.5 375.2 L539.7 369.4 Z" fill="#111" stroke="#111" stroke-width="1.90" stroke-linejoin="round" stroke-linecap="round"/>
<path d="M540.6 365.8 L542.3 364.2 L551.2 369.9 L548.6 371.0 Z" fill="#fff" stroke="none" stroke-width="0.00" stroke-linejoin="round" stroke-linecap="round"/>
<line x1="541.0" y1="367.9" x2="548.5" y2="373.1" stroke="#fff" stroke-width="0.90" stroke-linecap="round"/>
<path d="M533.7 370.2 L536.6 368.3 L546.4 374.1 L543.5 379.8 L533.7 374.0 Z" fill="#111" stroke="#111" stroke-width="1.90" stroke-linejoin="round" stroke-linecap="round"/>
<path d="M534.6 370.4 L536.3 368.8 L545.2 374.5 L542.6 375.6 Z" fill="#fff" stroke="none" stroke-width="0.00" stroke-linejoin="round" stroke-linecap="round"/>
<line x1="535.0" y1="372.5" x2="542.5" y2="377.7" stroke="#fff" stroke-width="0.90" stroke-linecap="round"/>
<path d="M386.9 474.7 L736.0 293.0 L741.5 295.5 L742.0 304.6 L396.2 488.8 L388.4 487.8 Z" fill="#fff" stroke="#111" stroke-width="1.80" stroke-linejoin="round" stroke-linecap="round"/>
<line x1="396.2" y1="477.1" x2="741.5" y2="295.5" stroke="#111" stroke-width="1.53" stroke-linecap="round"/>
<path d="M386.9 474.7 L396.2 477.1 L396.2 488.8" fill="none" stroke="#111" stroke-width="1.30" stroke-linejoin="round" stroke-linecap="round"/>
<circle cx="416.0" cy="472.8" r="1.5" fill="#111"/>
<circle cx="421.5" cy="470.6" r="1.5" fill="#111"/>
<circle cx="564.0" cy="392.8" r="1.5" fill="#111"/>
<circle cx="568.8" cy="390.6" r="1.5" fill="#111"/>
<circle cx="712.0" cy="318.0" r="1.5" fill="#111"/>
<circle cx="717.6" cy="315.2" r="1.5" fill="#111"/>
<path d="M354.6 456.5 L404.7 453.5 L409.8 455.0 L409.8 459.7 L396.0 466.0 L365.0 467.0 L355.0 460.6 Z" fill="#fff" stroke="#111" stroke-width="1.60" stroke-linejoin="round" stroke-linecap="round"/>
<path d="M354.6 456.5 L404.7 453.5 L409.8 455.0 L396.0 460.5 L364.5 461.5 Z" fill="#fff" stroke="#111" stroke-width="1.10" stroke-linejoin="round" stroke-linecap="round"/>
<circle cx="381.0" cy="457.6" r="1.4" fill="#111"/>
<path d="M695.0 277.0 L706.0 283.0 L701.0 307.0 L688.0 312.4 L689.0 307.0 Z" fill="#fff" stroke="#111" stroke-width="1.60" stroke-linejoin="round" stroke-linecap="round"/>
<line x1="706.0" y1="283.0" x2="701.0" y2="307.0" stroke="#111" stroke-width="2.20" stroke-linecap="round"/>
<circle cx="697.5" cy="292.0" r="1.2" fill="#111"/>
<circle cx="556.5" cy="226.8" r="57.2" fill="none" stroke="#111" stroke-width="1.20"/>
<line x1="569.0" y1="277.0" x2="579.5" y2="404.0" stroke="#111" stroke-width="1.10" stroke-linecap="round"/>
<path d="M577.3 396.0 L582.3 395.6 L580.2 410.0 Z" fill="#111" stroke="#111" stroke-width="0.80" stroke-linejoin="round" stroke-linecap="round"/>
<line x1="569.0" y1="277.0" x2="668.0" y2="350.0" stroke="#111" stroke-width="1.10" stroke-linecap="round"/>
<path d="M663.5 350.2 L666.6 346.0 L675.5 355.5 Z" fill="#111" stroke="#111" stroke-width="0.80" stroke-linejoin="round" stroke-linecap="round"/>
<line x1="516.0" y1="199.5" x2="545.0" y2="211.0" stroke="#1a1a1a" stroke-width="5.20" stroke-linecap="round"/>
<circle cx="551.4" cy="213.6" r="5.6" fill="#fff" stroke="#111" stroke-width="1.20"/>
<circle cx="551.4" cy="213.6" r="2.2" fill="#fff" stroke="#111" stroke-width="0.90"/>
<path d="M557 214.6 L576 220.2 Q580 221.6 579 225.6 L571.6 249.5 Q570.6 253.8 574.5 256 L592.5 266" fill="none" stroke="#111" stroke-width="3.6" stroke-linecap="round" stroke-linejoin="round"/>
<path d="M557 214.6 L576 220.2 Q580 221.6 579 225.6 L571.6 249.5 Q570.6 253.8 574.5 256 L592.5 266" fill="none" stroke="#fff" stroke-width="1.4" stroke-linecap="round" stroke-linejoin="round"/>
<path d="M563.0 233.0 L563.5 222.0 L568.0 218.5 L565.0 212.0 L578.0 199.0 L577.5 215.0 L572.5 213.5 L569.5 222.0 L569.0 234.0 Z" fill="#fff" stroke="#111" stroke-width="1.10" stroke-linejoin="round" stroke-linecap="round"/>
<circle cx="749.0" cy="350.0" r="15.0" fill="#fff" stroke="#111" stroke-width="1.10"/>
<line x1="742.9" y1="342.2" x2="753.8" y2="356.1" stroke="#1a1a1a" stroke-width="4.20" stroke-linecap="butt"/>
<circle cx="753.8" cy="356.1" r="3.8" fill="#fff" stroke="#111" stroke-width="1.00"/>
<circle cx="753.8" cy="356.1" r="1.7" fill="#fff" stroke="#111" stroke-width="0.80"/>
<path d="M739.2 335.9 L732.5 328.8 L734.5 326.9 L726.4 325.6 L727.2 333.8 L729.2 331.9 L735.8 339.1 Z" fill="#fff" stroke="#111" stroke-width="1.20" stroke-linejoin="round" stroke-linecap="round"/>
<circle cx="598.4" cy="435.0" r="15.5" fill="#fff" stroke="#111" stroke-width="1.10"/>
<line x1="592.1" y1="426.9" x2="603.4" y2="441.4" stroke="#1a1a1a" stroke-width="4.20" stroke-linecap="butt"/>
<circle cx="603.4" cy="441.4" r="3.8" fill="#fff" stroke="#111" stroke-width="1.00"/>
<circle cx="603.4" cy="441.4" r="1.7" fill="#fff" stroke="#111" stroke-width="0.80"/>
<path d="M586.7 419.0 L581.6 413.3 L583.7 411.5 L575.6 410.0 L576.2 418.2 L578.2 416.4 L583.3 422.0 Z" fill="#fff" stroke="#111" stroke-width="1.20" stroke-linejoin="round" stroke-linecap="round"/>
<circle cx="449.3" cy="501.5" r="15.5" fill="#fff" stroke="#111" stroke-width="1.10"/>
<line x1="443.0" y1="493.4" x2="454.3" y2="507.9" stroke="#1a1a1a" stroke-width="4.20" stroke-linecap="butt"/>
<circle cx="454.3" cy="507.9" r="3.8" fill="#fff" stroke="#111" stroke-width="1.00"/>
<circle cx="454.3" cy="507.9" r="1.7" fill="#fff" stroke="#111" stroke-width="0.80"/>
<path d="M437.7 486.0 L432.2 479.8 L434.3 478.0 L426.2 476.5 L426.8 484.7 L428.8 482.9 L434.3 489.0 Z" fill="#fff" stroke="#111" stroke-width="1.20" stroke-linejoin="round" stroke-linecap="round"/>
</g>
<g id="step2">
<line x1="932.4" y1="338.0" x2="1214.8" y2="172.5" stroke="#111" stroke-width="1.90" stroke-linecap="round"/>
<line x1="935.6" y1="340.2" x2="1218.0" y2="174.7" stroke="#111" stroke-width="1.90" stroke-linecap="round"/>
<line x1="938.4" y1="344.6" x2="1220.8" y2="179.1" stroke="#111" stroke-width="1.90" stroke-linecap="round"/>
<path d="M932.4 337.6 L938.6 339.2 L939.2 347.2 L933.0 345.6 Z" fill="#fff" stroke="#111" stroke-width="1.90" stroke-linejoin="round" stroke-linecap="round"/>
<path d="M1214.8 172.5 L1218.0 174.7 L1220.8 179.1" fill="none" stroke="#111" stroke-width="1.40" stroke-linejoin="round" stroke-linecap="round"/>
<line x1="1255.0" y1="483.5" x2="1535.0" y2="317.5" stroke="#111" stroke-width="1.90" stroke-linecap="round"/>
<line x1="1255.0" y1="476.5" x2="1535.0" y2="310.5" stroke="#111" stroke-width="1.40" stroke-linecap="round"/>
<line x1="1255.0" y1="471.0" x2="1535.0" y2="305.0" stroke="#111" stroke-width="1.40" stroke-linecap="round"/>
<line x1="1255.0" y1="468.0" x2="1535.0" y2="302.0" stroke="#111" stroke-width="1.90" stroke-linecap="round"/>
<path d="M1252.0 473.6 L1255.6 475.0 L1255.4 483.6 L1252.4 482.0 Z" fill="#fff" stroke="#111" stroke-width="1.90" stroke-linejoin="round" stroke-linecap="round"/>
<path d="M943.7 339.4 L1229.7 168.9 L1238.7 172.9 L952.7 343.4 Z" fill="#fff" stroke="#111" stroke-width="1.50" stroke-linejoin="round" stroke-linecap="round"/>
<line x1="953.4" y1="344.1" x2="1239.4" y2="173.6" stroke="#111" stroke-width="1.70" stroke-linecap="round"/>
<line x1="943.9" y1="340.3" x2="953.2" y2="344.3" stroke="#111" stroke-width="1.50" stroke-linecap="round"/>
<path d="M963.5 347.6 L1249.5 177.1 L1258.5 181.1 L972.5 351.6 Z" fill="#fff" stroke="#111" stroke-width="1.50" stroke-linejoin="round" stroke-linecap="round"/>
<line x1="973.2" y1="352.3" x2="1259.2" y2="181.8" stroke="#111" stroke-width="1.70" stroke-linecap="round"/>
<line x1="963.7" y1="348.5" x2="973.0" y2="352.5" stroke="#111" stroke-width="1.50" stroke-linecap="round"/>
<path d="M983.3 355.8 L1269.3 185.3 L1278.3 189.3 L992.3 359.8 Z" fill="#fff" stroke="#111" stroke-width="1.50" stroke-linejoin="round" stroke-linecap="round"/>
<line x1="993.0" y1="360.5" x2="1279.0" y2="190.0" stroke="#111" stroke-width="1.70" stroke-linecap="round"/>
<line x1="983.5" y1="356.7" x2="992.8" y2="360.7" stroke="#111" stroke-width="1.50" stroke-linecap="round"/>
<path d="M1003.1 364.0 L1289.1 193.5 L1298.1 197.5 L1012.1 368.0 Z" fill="#fff" stroke="#111" stroke-width="1.50" stroke-linejoin="round" stroke-linecap="round"/>
<line x1="1012.8" y1="368.7" x2="1298.8" y2="198.2" stroke="#111" stroke-width="1.70" stroke-linecap="round"/>
<line x1="1003.3" y1="364.9" x2="1012.6" y2="368.9" stroke="#111" stroke-width="1.50" stroke-linecap="round"/>
<path d="M1022.9 372.2 L1308.9 201.7 L1317.9 205.7 L1031.9 376.2 Z" fill="#fff" stroke="#111" stroke-width="1.50" stroke-linejoin="round" stroke-linecap="round"/>
<line x1="1032.6" y1="376.9" x2="1318.6" y2="206.4" stroke="#111" stroke-width="1.70" stroke-linecap="round"/>
<line x1="1023.1" y1="373.1" x2="1032.4" y2="377.1" stroke="#111" stroke-width="1.50" stroke-linecap="round"/>
<path d="M1042.7 380.4 L1328.7 209.9 L1337.7 213.9 L1051.7 384.4 Z" fill="#fff" stroke="#111" stroke-width="1.50" stroke-linejoin="round" stroke-linecap="round"/>
<line x1="1052.4" y1="385.1" x2="1338.4" y2="214.6" stroke="#111" stroke-width="1.70" stroke-linecap="round"/>
<line x1="1042.9" y1="381.3" x2="1052.2" y2="385.3" stroke="#111" stroke-width="1.50" stroke-linecap="round"/>
<path d="M1062.5 388.6 L1348.5 218.1 L1357.5 222.1 L1071.5 392.6 Z" fill="#fff" stroke="#111" stroke-width="1.50" stroke-linejoin="round" stroke-linecap="round"/>
<line x1="1072.2" y1="393.3" x2="1358.2" y2="222.8" stroke="#111" stroke-width="1.70" stroke-linecap="round"/>
<line x1="1062.7" y1="389.5" x2="1072.0" y2="393.5" stroke="#111" stroke-width="1.50" stroke-linecap="round"/>
<path d="M1082.3 396.8 L1368.3 226.3 L1377.3 230.3 L1091.3 400.8 Z" fill="#fff" stroke="#111" stroke-width="1.50" stroke-linejoin="round" stroke-linecap="round"/>
<line x1="1092.0" y1="401.5" x2="1378.0" y2="231.0" stroke="#111" stroke-width="1.70" stroke-linecap="round"/>
<line x1="1082.5" y1="397.7" x2="1091.8" y2="401.7" stroke="#111" stroke-width="1.50" stroke-linecap="round"/>
<path d="M1102.1 405.0 L1388.1 234.5 L1397.1 238.5 L1111.1 409.0 Z" fill="#fff" stroke="#111" stroke-width="1.50" stroke-linejoin="round" stroke-linecap="round"/>
<line x1="1111.8" y1="409.7" x2="1397.8" y2="239.2" stroke="#111" stroke-width="1.70" stroke-linecap="round"/>
<line x1="1102.3" y1="405.9" x2="1111.6" y2="409.9" stroke="#111" stroke-width="1.50" stroke-linecap="round"/>
<path d="M1121.9 413.2 L1407.9 242.7 L1416.9 246.7 L1130.9 417.2 Z" fill="#fff" stroke="#111" stroke-width="1.50" stroke-linejoin="round" stroke-linecap="round"/>
<line x1="1131.6" y1="417.9" x2="1417.6" y2="247.4" stroke="#111" stroke-width="1.70" stroke-linecap="round"/>
<line x1="1122.1" y1="414.1" x2="1131.4" y2="418.1" stroke="#111" stroke-width="1.50" stroke-linecap="round"/>
<path d="M1141.7 421.4 L1427.7 250.9 L1436.7 254.9 L1150.7 425.4 Z" fill="#fff" stroke="#111" stroke-width="1.50" stroke-linejoin="round" stroke-linecap="round"/>
<line x1="1151.4" y1="426.1" x2="1437.4" y2="255.6" stroke="#111" stroke-width="1.70" stroke-linecap="round"/>
<line x1="1141.9" y1="422.3" x2="1151.2" y2="426.3" stroke="#111" stroke-width="1.50" stroke-linecap="round"/>
<path d="M1161.5 429.6 L1447.5 259.1 L1456.5 263.1 L1170.5 433.6 Z" fill="#fff" stroke="#111" stroke-width="1.50" stroke-linejoin="round" stroke-linecap="round"/>
<line x1="1171.2" y1="434.3" x2="1457.2" y2="263.8" stroke="#111" stroke-width="1.70" stroke-linecap="round"/>
<line x1="1161.7" y1="430.5" x2="1171.0" y2="434.5" stroke="#111" stroke-width="1.50" stroke-linecap="round"/>
<path d="M1181.3 437.8 L1467.3 267.3 L1476.3 271.3 L1190.3 441.8 Z" fill="#fff" stroke="#111" stroke-width="1.50" stroke-linejoin="round" stroke-linecap="round"/>
<line x1="1191.0" y1="442.5" x2="1477.0" y2="272.0" stroke="#111" stroke-width="1.70" stroke-linecap="round"/>
<line x1="1181.5" y1="438.7" x2="1190.8" y2="442.7" stroke="#111" stroke-width="1.50" stroke-linecap="round"/>
<path d="M1201.1 446.0 L1487.1 275.5 L1496.1 279.5 L1210.1 450.0 Z" fill="#fff" stroke="#111" stroke-width="1.50" stroke-linejoin="round" stroke-linecap="round"/>
<line x1="1210.8" y1="450.7" x2="1496.8" y2="280.2" stroke="#111" stroke-width="1.70" stroke-linecap="round"/>
<line x1="1201.3" y1="446.9" x2="1210.6" y2="450.9" stroke="#111" stroke-width="1.50" stroke-linecap="round"/>
<path d="M1220.9 454.2 L1506.9 283.7 L1515.9 287.7 L1229.9 458.2 Z" fill="#fff" stroke="#111" stroke-width="1.50" stroke-linejoin="round" stroke-linecap="round"/>
<line x1="1230.6" y1="458.9" x2="1516.6" y2="288.4" stroke="#111" stroke-width="1.70" stroke-linecap="round"/>
<line x1="1221.1" y1="455.1" x2="1230.4" y2="459.1" stroke="#111" stroke-width="1.50" stroke-linecap="round"/>
<path d="M1240.7 462.4 L1526.7 291.9 L1535.7 295.9 L1249.7 466.4 Z" fill="#fff" stroke="#111" stroke-width="1.50" stroke-linejoin="round" stroke-linecap="round"/>
<line x1="1250.4" y1="467.1" x2="1536.4" y2="296.6" stroke="#111" stroke-width="1.70" stroke-linecap="round"/>
<line x1="1240.9" y1="463.3" x2="1250.2" y2="467.3" stroke="#111" stroke-width="1.50" stroke-linecap="round"/>
<line x1="1063.7" y1="267.9" x2="1072.7" y2="271.9" stroke="#111" stroke-width="1.30" stroke-linecap="round"/>
<line x1="1083.5" y1="276.1" x2="1092.5" y2="280.1" stroke="#111" stroke-width="1.30" stroke-linecap="round"/>
<line x1="1103.3" y1="284.3" x2="1112.3" y2="288.3" stroke="#111" stroke-width="1.30" stroke-linecap="round"/>
<line x1="1123.1" y1="292.5" x2="1132.1" y2="296.5" stroke="#111" stroke-width="1.30" stroke-linecap="round"/>
<line x1="1142.9" y1="300.7" x2="1151.9" y2="304.7" stroke="#111" stroke-width="1.30" stroke-linecap="round"/>
<line x1="1162.7" y1="308.9" x2="1171.7" y2="312.9" stroke="#111" stroke-width="1.30" stroke-linecap="round"/>
<line x1="1182.5" y1="317.1" x2="1191.5" y2="321.1" stroke="#111" stroke-width="1.30" stroke-linecap="round"/>
<line x1="1202.3" y1="325.3" x2="1211.3" y2="329.3" stroke="#111" stroke-width="1.30" stroke-linecap="round"/>
<line x1="1222.1" y1="333.5" x2="1231.1" y2="337.5" stroke="#111" stroke-width="1.30" stroke-linecap="round"/>
<line x1="1241.9" y1="341.7" x2="1250.9" y2="345.7" stroke="#111" stroke-width="1.30" stroke-linecap="round"/>
<line x1="1261.7" y1="349.9" x2="1270.7" y2="353.9" stroke="#111" stroke-width="1.30" stroke-linecap="round"/>
<line x1="1281.5" y1="358.1" x2="1290.5" y2="362.1" stroke="#111" stroke-width="1.30" stroke-linecap="round"/>
<line x1="1301.3" y1="366.3" x2="1310.3" y2="370.3" stroke="#111" stroke-width="1.30" stroke-linecap="round"/>
<line x1="1321.1" y1="374.5" x2="1330.1" y2="378.5" stroke="#111" stroke-width="1.30" stroke-linecap="round"/>
<line x1="1340.9" y1="382.7" x2="1349.9" y2="386.7" stroke="#111" stroke-width="1.30" stroke-linecap="round"/>
<line x1="1360.7" y1="390.9" x2="1369.7" y2="394.9" stroke="#111" stroke-width="1.30" stroke-linecap="round"/>
<line x1="1077.5" y1="255.3" x2="1392.0" y2="388.5" stroke="#111" stroke-width="2.20" stroke-linecap="round"/>
<line x1="1077.5" y1="258.3" x2="1392.0" y2="391.5" stroke="#111" stroke-width="1.70" stroke-linecap="round"/>
<line x1="1077.5" y1="261.3" x2="1392.0" y2="394.5" stroke="#111" stroke-width="2.20" stroke-linecap="round"/>
<path d="M1086.2 264.4 L1086.2 268.5 L1089.4 269.5 L1089.4 265.8 Z" fill="#111" stroke="#111" stroke-width="0.80" stroke-linejoin="round" stroke-linecap="round"/>
<path d="M1105.5 272.5 L1105.5 276.6 L1108.7 277.6 L1108.7 273.9 Z" fill="#111" stroke="#111" stroke-width="0.80" stroke-linejoin="round" stroke-linecap="round"/>
<path d="M1124.8 280.7 L1124.8 284.8 L1128.0 285.8 L1128.0 282.1 Z" fill="#111" stroke="#111" stroke-width="0.80" stroke-linejoin="round" stroke-linecap="round"/>
<path d="M1144.1 288.9 L1144.1 293.0 L1147.3 294.0 L1147.3 290.3 Z" fill="#111" stroke="#111" stroke-width="0.80" stroke-linejoin="round" stroke-linecap="round"/>
<path d="M1163.4 297.1 L1163.4 301.2 L1166.6 302.2 L1166.6 298.5 Z" fill="#111" stroke="#111" stroke-width="0.80" stroke-linejoin="round" stroke-linecap="round"/>
<path d="M1182.7 305.2 L1182.7 309.3 L1185.9 310.3 L1185.9 306.6 Z" fill="#111" stroke="#111" stroke-width="0.80" stroke-linejoin="round" stroke-linecap="round"/>
<path d="M1201.9 313.4 L1201.9 317.5 L1205.1 318.5 L1205.1 314.8 Z" fill="#111" stroke="#111" stroke-width="0.80" stroke-linejoin="round" stroke-linecap="round"/>
<path d="M1221.2 321.6 L1221.2 325.7 L1224.4 326.7 L1224.4 323.0 Z" fill="#111" stroke="#111" stroke-width="0.80" stroke-linejoin="round" stroke-linecap="round"/>
<path d="M1240.5 329.8 L1240.5 333.9 L1243.7 334.9 L1243.7 331.2 Z" fill="#111" stroke="#111" stroke-width="0.80" stroke-linejoin="round" stroke-linecap="round"/>
<path d="M1259.8 337.9 L1259.8 342.0 L1263.0 343.0 L1263.0 339.3 Z" fill="#111" stroke="#111" stroke-width="0.80" stroke-linejoin="round" stroke-linecap="round"/>
<path d="M1279.1 346.1 L1279.1 350.2 L1282.3 351.2 L1282.3 347.5 Z" fill="#111" stroke="#111" stroke-width="0.80" stroke-linejoin="round" stroke-linecap="round"/>
<path d="M1298.4 354.3 L1298.4 358.4 L1301.6 359.4 L1301.6 355.7 Z" fill="#111" stroke="#111" stroke-width="0.80" stroke-linejoin="round" stroke-linecap="round"/>
<path d="M1317.7 362.4 L1317.7 366.5 L1320.9 367.5 L1320.9 363.8 Z" fill="#111" stroke="#111" stroke-width="0.80" stroke-linejoin="round" stroke-linecap="round"/>
<path d="M1337.0 370.6 L1337.0 374.7 L1340.2 375.7 L1340.2 372.0 Z" fill="#111" stroke="#111" stroke-width="0.80" stroke-linejoin="round" stroke-linecap="round"/>
<path d="M1356.3 378.8 L1356.3 382.9 L1359.5 383.9 L1359.5 380.2 Z" fill="#111" stroke="#111" stroke-width="0.80" stroke-linejoin="round" stroke-linecap="round"/>
<path d="M1375.6 387.0 L1375.6 391.1 L1378.8 392.1 L1378.8 388.4 Z" fill="#111" stroke="#111" stroke-width="0.80" stroke-linejoin="round" stroke-linecap="round"/>
<path d="M1226.7 166.6 L1541.0 297.6 L1541.0 308.6 L1226.7 177.6 Z" fill="#fff" stroke="#111" stroke-width="1.90" stroke-linejoin="round" stroke-linecap="round"/>
<path d="M1226.7 166.6 L1230.7 164.3 L1545.4 295.4 L1541.0 297.6 Z" fill="#fff" stroke="#111" stroke-width="1.40" stroke-linejoin="round" stroke-linecap="round"/>
<path d="M1541.0 297.6 L1545.4 295.4 L1545.8 306.0 L1541.0 308.6 Z" fill="#fff" stroke="#111" stroke-width="1.90" stroke-linejoin="round" stroke-linecap="round"/>
<path d="M1228.7 164.4 L1241.7 169.8 L1241.7 177.2 L1228.7 171.8 Z" fill="#fff" stroke="#111" stroke-width="1.80" stroke-linejoin="round" stroke-linecap="round"/>
<line x1="1229.2" y1="168.0" x2="1241.2" y2="173.4" stroke="#111" stroke-width="1.20" stroke-linecap="round"/>
<path d="M1248.8 172.8 L1261.8 178.2 L1261.8 185.6 L1248.8 180.2 Z" fill="#fff" stroke="#111" stroke-width="1.80" stroke-linejoin="round" stroke-linecap="round"/>
<line x1="1249.2" y1="176.4" x2="1261.2" y2="181.8" stroke="#111" stroke-width="1.20" stroke-linecap="round"/>
<path d="M1268.8 181.1 L1281.8 186.5 L1281.8 193.9 L1268.8 188.5 Z" fill="#fff" stroke="#111" stroke-width="1.80" stroke-linejoin="round" stroke-linecap="round"/>
<line x1="1269.3" y1="184.7" x2="1281.3" y2="190.1" stroke="#111" stroke-width="1.20" stroke-linecap="round"/>
<path d="M1288.9 189.5 L1301.9 194.9 L1301.9 202.3 L1288.9 196.9 Z" fill="#fff" stroke="#111" stroke-width="1.80" stroke-linejoin="round" stroke-linecap="round"/>
<line x1="1289.4" y1="193.1" x2="1301.4" y2="198.5" stroke="#111" stroke-width="1.20" stroke-linecap="round"/>
<path d="M1308.9 197.8 L1321.9 203.2 L1321.9 210.6 L1308.9 205.2 Z" fill="#fff" stroke="#111" stroke-width="1.80" stroke-linejoin="round" stroke-linecap="round"/>
<line x1="1309.4" y1="201.4" x2="1321.4" y2="206.8" stroke="#111" stroke-width="1.20" stroke-linecap="round"/>
<path d="M1329.0 206.2 L1342.0 211.6 L1342.0 219.0 L1329.0 213.6 Z" fill="#fff" stroke="#111" stroke-width="1.80" stroke-linejoin="round" stroke-linecap="round"/>
<line x1="1329.5" y1="209.8" x2="1341.5" y2="215.2" stroke="#111" stroke-width="1.20" stroke-linecap="round"/>
<path d="M1349.0 214.6 L1362.0 220.0 L1362.0 227.4 L1349.0 222.0 Z" fill="#fff" stroke="#111" stroke-width="1.80" stroke-linejoin="round" stroke-linecap="round"/>
<line x1="1349.5" y1="218.2" x2="1361.5" y2="223.6" stroke="#111" stroke-width="1.20" stroke-linecap="round"/>
<path d="M1369.0 222.9 L1382.0 228.3 L1382.0 235.7 L1369.0 230.3 Z" fill="#fff" stroke="#111" stroke-width="1.80" stroke-linejoin="round" stroke-linecap="round"/>
<line x1="1369.5" y1="226.5" x2="1381.5" y2="231.9" stroke="#111" stroke-width="1.20" stroke-linecap="round"/>
<path d="M1389.1 231.3 L1402.1 236.7 L1402.1 244.1 L1389.1 238.7 Z" fill="#fff" stroke="#111" stroke-width="1.80" stroke-linejoin="round" stroke-linecap="round"/>
<line x1="1389.6" y1="234.9" x2="1401.6" y2="240.3" stroke="#111" stroke-width="1.20" stroke-linecap="round"/>
<path d="M1409.2 239.6 L1422.2 245.0 L1422.2 252.4 L1409.2 247.0 Z" fill="#fff" stroke="#111" stroke-width="1.80" stroke-linejoin="round" stroke-linecap="round"/>
<line x1="1409.7" y1="243.2" x2="1421.7" y2="248.6" stroke="#111" stroke-width="1.20" stroke-linecap="round"/>
<path d="M1429.2 248.0 L1442.2 253.4 L1442.2 260.8 L1429.2 255.4 Z" fill="#fff" stroke="#111" stroke-width="1.80" stroke-linejoin="round" stroke-linecap="round"/>
<line x1="1429.7" y1="251.6" x2="1441.7" y2="257.0" stroke="#111" stroke-width="1.20" stroke-linecap="round"/>
<path d="M1449.2 256.3 L1462.2 261.7 L1462.2 269.1 L1449.2 263.7 Z" fill="#fff" stroke="#111" stroke-width="1.80" stroke-linejoin="round" stroke-linecap="round"/>
<line x1="1449.8" y1="259.9" x2="1461.8" y2="265.3" stroke="#111" stroke-width="1.20" stroke-linecap="round"/>
<path d="M1469.3 264.7 L1482.3 270.1 L1482.3 277.5 L1469.3 272.1 Z" fill="#fff" stroke="#111" stroke-width="1.80" stroke-linejoin="round" stroke-linecap="round"/>
<line x1="1469.8" y1="268.3" x2="1481.8" y2="273.7" stroke="#111" stroke-width="1.20" stroke-linecap="round"/>
<path d="M1489.4 273.0 L1502.4 278.4 L1502.4 285.8 L1489.4 280.4 Z" fill="#fff" stroke="#111" stroke-width="1.80" stroke-linejoin="round" stroke-linecap="round"/>
<line x1="1489.9" y1="276.6" x2="1501.9" y2="282.0" stroke="#111" stroke-width="1.20" stroke-linecap="round"/>
<path d="M1509.4 281.4 L1522.4 286.8 L1522.4 294.2 L1509.4 288.8 Z" fill="#fff" stroke="#111" stroke-width="1.80" stroke-linejoin="round" stroke-linecap="round"/>
<line x1="1509.9" y1="285.0" x2="1521.9" y2="290.4" stroke="#111" stroke-width="1.20" stroke-linecap="round"/>
<path d="M1529.5 289.7 L1542.5 295.1 L1542.5 302.5 L1529.5 297.1 Z" fill="#fff" stroke="#111" stroke-width="1.80" stroke-linejoin="round" stroke-linecap="round"/>
<line x1="1530.0" y1="293.3" x2="1542.0" y2="298.7" stroke="#111" stroke-width="1.20" stroke-linecap="round"/>
<circle cx="1239.5" cy="179.8" r="1.5" fill="#111"/>
<circle cx="1244.6" cy="181.6" r="1.5" fill="#111"/>
<circle cx="1517.0" cy="295.5" r="1.5" fill="#111"/>
<circle cx="1522.5" cy="297.6" r="1.5" fill="#111"/>
<path d="M922.3 349.4 L926.3 347.4 L1241.8 476.6 L1237.8 478.6 Z" fill="#fff" stroke="#111" stroke-width="1.40" stroke-linejoin="round" stroke-linecap="round"/>
<path d="M922.3 349.4 L1237.8 478.6 L1237.8 488.6 L922.9 358.0 Z" fill="#fff" stroke="#111" stroke-width="1.90" stroke-linejoin="round" stroke-linecap="round"/>
<path d="M1237.8 478.6 L1241.8 476.6 L1241.8 486.6 L1237.8 488.6 Z" fill="#fff" stroke="#111" stroke-width="1.90" stroke-linejoin="round" stroke-linecap="round"/>
<path d="M930.4 347.6 L941.4 352.1 L941.8 355.8 L930.8 351.3 Z" fill="#fff" stroke="#111" stroke-width="1.60" stroke-linejoin="round" stroke-linecap="round"/>
<line x1="931.4" y1="350.2" x2="940.8" y2="354.1" stroke="#111" stroke-width="1.00" stroke-linecap="round"/>
<path d="M950.1 355.7 L961.1 360.2 L961.5 363.9 L950.5 359.4 Z" fill="#fff" stroke="#111" stroke-width="1.60" stroke-linejoin="round" stroke-linecap="round"/>
<line x1="951.1" y1="358.3" x2="960.5" y2="362.2" stroke="#111" stroke-width="1.00" stroke-linecap="round"/>
<path d="M969.9 363.8 L980.9 368.3 L981.3 372.0 L970.3 367.5 Z" fill="#fff" stroke="#111" stroke-width="1.60" stroke-linejoin="round" stroke-linecap="round"/>
<line x1="970.9" y1="366.4" x2="980.3" y2="370.3" stroke="#111" stroke-width="1.00" stroke-linecap="round"/>
<path d="M989.6 371.9 L1000.6 376.4 L1001.0 380.1 L990.0 375.6 Z" fill="#fff" stroke="#111" stroke-width="1.60" stroke-linejoin="round" stroke-linecap="round"/>
<line x1="990.6" y1="374.5" x2="1000.0" y2="378.4" stroke="#111" stroke-width="1.00" stroke-linecap="round"/>
<path d="M1009.4 379.9 L1020.4 384.4 L1020.8 388.1 L1009.8 383.6 Z" fill="#fff" stroke="#111" stroke-width="1.60" stroke-linejoin="round" stroke-linecap="round"/>
<line x1="1010.4" y1="382.5" x2="1019.8" y2="386.4" stroke="#111" stroke-width="1.00" stroke-linecap="round"/>
<path d="M1029.2 388.0 L1040.2 392.5 L1040.5 396.2 L1029.5 391.7 Z" fill="#fff" stroke="#111" stroke-width="1.60" stroke-linejoin="round" stroke-linecap="round"/>
<line x1="1030.2" y1="390.6" x2="1039.5" y2="394.5" stroke="#111" stroke-width="1.00" stroke-linecap="round"/>
<path d="M1048.9 396.1 L1059.9 400.6 L1060.3 404.3 L1049.3 399.8 Z" fill="#fff" stroke="#111" stroke-width="1.60" stroke-linejoin="round" stroke-linecap="round"/>
<line x1="1049.9" y1="398.7" x2="1059.3" y2="402.6" stroke="#111" stroke-width="1.00" stroke-linecap="round"/>
<path d="M1068.7 404.2 L1079.7 408.7 L1080.0 412.4 L1069.0 407.9 Z" fill="#fff" stroke="#111" stroke-width="1.60" stroke-linejoin="round" stroke-linecap="round"/>
<line x1="1069.7" y1="406.8" x2="1079.0" y2="410.7" stroke="#111" stroke-width="1.00" stroke-linecap="round"/>
<path d="M1088.4 412.3 L1099.4 416.8 L1099.8 420.5 L1088.8 416.0 Z" fill="#fff" stroke="#111" stroke-width="1.60" stroke-linejoin="round" stroke-linecap="round"/>
<line x1="1089.4" y1="414.9" x2="1098.8" y2="418.8" stroke="#111" stroke-width="1.00" stroke-linecap="round"/>
<path d="M1108.2 420.3 L1119.2 424.8 L1119.5 428.5 L1108.5 424.0 Z" fill="#fff" stroke="#111" stroke-width="1.60" stroke-linejoin="round" stroke-linecap="round"/>
<line x1="1109.2" y1="422.9" x2="1118.5" y2="426.8" stroke="#111" stroke-width="1.00" stroke-linecap="round"/>
<path d="M1127.9 428.4 L1138.9 432.9 L1139.3 436.6 L1128.3 432.1 Z" fill="#fff" stroke="#111" stroke-width="1.60" stroke-linejoin="round" stroke-linecap="round"/>
<line x1="1128.9" y1="431.0" x2="1138.3" y2="434.9" stroke="#111" stroke-width="1.00" stroke-linecap="round"/>
<path d="M1147.7 436.5 L1158.7 441.0 L1159.0 444.7 L1148.0 440.2 Z" fill="#fff" stroke="#111" stroke-width="1.60" stroke-linejoin="round" stroke-linecap="round"/>
<line x1="1148.7" y1="439.1" x2="1158.0" y2="443.0" stroke="#111" stroke-width="1.00" stroke-linecap="round"/>
<path d="M1167.4 444.6 L1178.4 449.1 L1178.8 452.8 L1167.8 448.3 Z" fill="#fff" stroke="#111" stroke-width="1.60" stroke-linejoin="round" stroke-linecap="round"/>
<line x1="1168.4" y1="447.2" x2="1177.8" y2="451.1" stroke="#111" stroke-width="1.00" stroke-linecap="round"/>
<path d="M1187.2 452.7 L1198.2 457.2 L1198.5 460.9 L1187.5 456.4 Z" fill="#fff" stroke="#111" stroke-width="1.60" stroke-linejoin="round" stroke-linecap="round"/>
<line x1="1188.2" y1="455.3" x2="1197.5" y2="459.2" stroke="#111" stroke-width="1.00" stroke-linecap="round"/>
<path d="M1206.9 460.7 L1217.9 465.2 L1218.3 468.9 L1207.3 464.4 Z" fill="#fff" stroke="#111" stroke-width="1.60" stroke-linejoin="round" stroke-linecap="round"/>
<line x1="1207.9" y1="463.3" x2="1217.3" y2="467.2" stroke="#111" stroke-width="1.00" stroke-linecap="round"/>
<path d="M1226.7 468.8 L1237.7 473.3 L1238.0 477.0 L1227.0 472.5 Z" fill="#fff" stroke="#111" stroke-width="1.60" stroke-linejoin="round" stroke-linecap="round"/>
<line x1="1227.7" y1="471.4" x2="1237.0" y2="475.3" stroke="#111" stroke-width="1.00" stroke-linecap="round"/>
<circle cx="947.0" cy="361.5" r="1.5" fill="#111"/>
<circle cx="952.2" cy="363.6" r="1.5" fill="#111"/>
<circle cx="1214.0" cy="472.5" r="1.5" fill="#111"/>
<circle cx="1219.4" cy="474.6" r="1.5" fill="#111"/>
<path d="M955.5 336.0 L968.5 341.5 L970.0 358.0 L957.5 353.0 Z" fill="#fff" stroke="#111" stroke-width="1.90" stroke-linejoin="round" stroke-linecap="round"/>
<path d="M958.0 344.0 L969.0 348.5 L970.0 358.0 L958.8 353.6 Z" fill="#fff" stroke="#111" stroke-width="1.40" stroke-linejoin="round" stroke-linecap="round"/>
<circle cx="961.8" cy="341.6" r="1.6" fill="#111"/>
<path d="M1228.0 462.5 L1242.0 466.8 L1250.0 464.0 L1258.0 467.0 L1252.5 471.5 L1240.0 474.0 L1228.4 470.0 Z" fill="#fff" stroke="#111" stroke-width="1.50" stroke-linejoin="round" stroke-linecap="round"/>
<path d="M1198.0 198.5 L1227.0 182.7 L1241.0 183.2 L1212.0 199.4 Z" fill="#fff" stroke="#111" stroke-width="1.50" stroke-linejoin="round" stroke-linecap="round"/>
<line x1="1206.0" y1="199.0" x2="1220.0" y2="183.2" stroke="#111" stroke-width="1.30" stroke-linecap="round"/>
<line x1="1212.0" y1="199.4" x2="1234.0" y2="183.0" stroke="#111" stroke-width="1.30" stroke-linecap="round"/>
<circle cx="1222.0" cy="189.5" r="1.5" fill="#111"/>
<path d="M1233.5 195.2 L1241.5 191.4 L1241.8 197.6 Z" fill="#fff" stroke="#111" stroke-width="1.20" stroke-linejoin="round" stroke-linecap="round"/>
<path d="M1499.0 298.0 L1511.0 303.0 L1512.5 319.0 L1501.0 314.5 Z" fill="none" stroke="#111" stroke-width="1.30" stroke-linejoin="round" stroke-linecap="round"/>
<circle cx="1560.0" cy="0.0" r="0.0" fill="#111"/>
<circle cx="1283.0" cy="459.5" r="1.5" fill="#111"/>
<circle cx="1288.0" cy="456.5" r="1.5" fill="#111"/>
<circle cx="1402.0" cy="391.5" r="1.5" fill="#111"/>
<circle cx="1406.6" cy="389.0" r="1.5" fill="#111"/>
<circle cx="1510.0" cy="326.0" r="1.5" fill="#111"/>
<circle cx="1514.6" cy="323.6" r="1.5" fill="#111"/>
<circle cx="906.0" cy="392.5" r="14.5" fill="#fff" stroke="#111" stroke-width="1.10"/>
<line x1="898.6" y1="397.1" x2="915.8" y2="386.4" stroke="#1a1a1a" stroke-width="4.00" stroke-linecap="butt"/>
<circle cx="898.6" cy="397.1" r="3.3" fill="#fff" stroke="#111" stroke-width="1.00"/>
<circle cx="898.6" cy="397.1" r="1.3" fill="#fff" stroke="#111" stroke-width="0.70"/>
<path d="M922.7 383.3 L930.8 377.9 L932.2 380.1 L935.0 372.5 L927.0 372.2 L928.4 374.3 L920.3 379.7 Z" fill="#fff" stroke="#111" stroke-width="1.20" stroke-linejoin="round" stroke-linecap="round"/>
<circle cx="1187.0" cy="500.0" r="14.5" fill="#fff" stroke="#111" stroke-width="1.10"/>
<line x1="1179.6" y1="504.6" x2="1196.8" y2="493.9" stroke="#1a1a1a" stroke-width="4.00" stroke-linecap="butt"/>
<circle cx="1179.6" cy="504.6" r="3.3" fill="#fff" stroke="#111" stroke-width="1.00"/>
<circle cx="1179.6" cy="504.6" r="1.3" fill="#fff" stroke="#111" stroke-width="0.70"/>
<path d="M1203.1 490.4 L1211.6 485.3 L1212.9 487.4 L1216.0 480.0 L1208.0 479.3 L1209.3 481.5 L1200.9 486.6 Z" fill="#fff" stroke="#111" stroke-width="1.20" stroke-linejoin="round" stroke-linecap="round"/>
<circle cx="1283.5" cy="143.0" r="15.0" fill="#fff" stroke="#111" stroke-width="1.10"/>
<line x1="1289.7" y1="136.1" x2="1275.3" y2="152.1" stroke="#1a1a1a" stroke-width="4.00" stroke-linecap="butt"/>
<circle cx="1289.7" cy="136.1" r="3.3" fill="#fff" stroke="#111" stroke-width="1.00"/>
<circle cx="1289.7" cy="136.1" r="1.3" fill="#fff" stroke="#111" stroke-width="0.70"/>
<path d="M1269.5 155.9 L1263.7 161.5 L1262.0 159.7 L1260.6 167.6 L1268.6 166.5 L1266.8 164.6 L1272.5 159.1 Z" fill="#fff" stroke="#111" stroke-width="1.20" stroke-linejoin="round" stroke-linecap="round"/>
<circle cx="1560.5" cy="252.0" r="15.0" fill="#fff" stroke="#111" stroke-width="1.10"/>
<line x1="1566.7" y1="245.1" x2="1552.3" y2="261.1" stroke="#1a1a1a" stroke-width="4.00" stroke-linecap="butt"/>
<circle cx="1566.7" cy="245.1" r="3.3" fill="#fff" stroke="#111" stroke-width="1.00"/>
<circle cx="1566.7" cy="245.1" r="1.3" fill="#fff" stroke="#111" stroke-width="0.70"/>
<path d="M1546.5 264.9 L1540.7 270.5 L1539.0 268.7 L1537.6 276.6 L1545.6 275.5 L1543.8 273.6 L1549.5 268.1 Z" fill="#fff" stroke="#111" stroke-width="1.20" stroke-linejoin="round" stroke-linecap="round"/>
</g>
<g id="step3">
<line x1="145.8" y1="856.0" x2="396.8" y2="707.0" stroke="#111" stroke-width="1.80" stroke-linecap="round"/>
<line x1="150.4" y1="857.8" x2="401.4" y2="708.8" stroke="#111" stroke-width="1.40" stroke-linecap="round"/>
<line x1="155.0" y1="859.2" x2="406.0" y2="710.2" stroke="#111" stroke-width="1.40" stroke-linecap="round"/>
<line x1="436.8" y1="986.8" x2="687.4" y2="840.0" stroke="#111" stroke-width="1.80" stroke-linecap="round"/>
<line x1="436.8" y1="975.6" x2="687.4" y2="828.8" stroke="#111" stroke-width="1.80" stroke-linecap="round"/>
<line x1="436.8" y1="972.2" x2="684.0" y2="827.4" stroke="#111" stroke-width="1.30" stroke-linecap="round"/>
<line x1="436.8" y1="969.0" x2="680.9" y2="826.1" stroke="#111" stroke-width="1.30" stroke-linecap="round"/>
<line x1="436.8" y1="966.4" x2="678.3" y2="825.0" stroke="#111" stroke-width="1.30" stroke-linecap="round"/>
<path d="M157.0 859.0 L402.0 713.0 L410.8 716.6 L165.8 862.7 Z" fill="#fff" stroke="#111" stroke-width="1.50" stroke-linejoin="round" stroke-linecap="round"/>
<line x1="166.4" y1="863.3" x2="411.4" y2="717.3" stroke="#111" stroke-width="1.50" stroke-linecap="round"/>
<path d="M174.7 866.3 L419.7 720.3 L428.5 724.0 L183.5 870.0 Z" fill="#fff" stroke="#111" stroke-width="1.50" stroke-linejoin="round" stroke-linecap="round"/>
<line x1="184.1" y1="870.6" x2="429.1" y2="724.6" stroke="#111" stroke-width="1.50" stroke-linecap="round"/>
<path d="M192.3 873.7 L437.3 727.7 L446.1 731.3 L201.1 877.3 Z" fill="#fff" stroke="#111" stroke-width="1.50" stroke-linejoin="round" stroke-linecap="round"/>
<line x1="201.8" y1="878.0" x2="446.8" y2="731.9" stroke="#111" stroke-width="1.50" stroke-linecap="round"/>
<path d="M210.0 881.0 L455.0 735.0 L463.8 738.7 L218.8 884.7 Z" fill="#fff" stroke="#111" stroke-width="1.50" stroke-linejoin="round" stroke-linecap="round"/>
<line x1="219.4" y1="885.3" x2="464.4" y2="739.3" stroke="#111" stroke-width="1.50" stroke-linecap="round"/>
<path d="M227.7 888.4 L472.7 742.3 L481.5 746.0 L236.5 892.0 Z" fill="#fff" stroke="#111" stroke-width="1.50" stroke-linejoin="round" stroke-linecap="round"/>
<line x1="237.1" y1="892.6" x2="482.1" y2="746.6" stroke="#111" stroke-width="1.50" stroke-linecap="round"/>
<path d="M245.4 895.7 L490.4 749.7 L499.2 753.3 L254.2 899.4 Z" fill="#fff" stroke="#111" stroke-width="1.50" stroke-linejoin="round" stroke-linecap="round"/>
<line x1="254.8" y1="900.0" x2="499.8" y2="754.0" stroke="#111" stroke-width="1.50" stroke-linecap="round"/>
<path d="M263.0 903.0 L508.0 757.0 L516.8 760.7 L271.8 906.7 Z" fill="#fff" stroke="#111" stroke-width="1.50" stroke-linejoin="round" stroke-linecap="round"/>
<line x1="272.4" y1="907.3" x2="517.4" y2="761.3" stroke="#111" stroke-width="1.50" stroke-linecap="round"/>
<path d="M280.7 910.4 L525.7 764.4 L534.5 768.0 L289.5 914.0 Z" fill="#fff" stroke="#111" stroke-width="1.50" stroke-linejoin="round" stroke-linecap="round"/>
<line x1="290.1" y1="914.7" x2="535.1" y2="768.6" stroke="#111" stroke-width="1.50" stroke-linecap="round"/>
<path d="M298.4 917.7 L543.4 771.7 L552.2 775.4 L307.2 921.4 Z" fill="#fff" stroke="#111" stroke-width="1.50" stroke-linejoin="round" stroke-linecap="round"/>
<line x1="307.8" y1="922.0" x2="552.8" y2="776.0" stroke="#111" stroke-width="1.50" stroke-linecap="round"/>
<path d="M316.0 925.1 L561.0 779.0 L569.8 782.7 L324.8 928.7 Z" fill="#fff" stroke="#111" stroke-width="1.50" stroke-linejoin="round" stroke-linecap="round"/>
<line x1="325.5" y1="929.3" x2="570.4" y2="783.3" stroke="#111" stroke-width="1.50" stroke-linecap="round"/>
<path d="M333.7 932.4 L578.7 786.4 L587.5 790.0 L342.5 936.1 Z" fill="#fff" stroke="#111" stroke-width="1.50" stroke-linejoin="round" stroke-linecap="round"/>
<line x1="343.1" y1="936.7" x2="588.1" y2="790.7" stroke="#111" stroke-width="1.50" stroke-linecap="round"/>
<path d="M351.4 939.7 L596.4 793.7 L605.2 797.4 L360.2 943.4 Z" fill="#fff" stroke="#111" stroke-width="1.50" stroke-linejoin="round" stroke-linecap="round"/>
<line x1="360.8" y1="944.0" x2="605.8" y2="798.0" stroke="#111" stroke-width="1.50" stroke-linecap="round"/>
<path d="M369.0 947.1 L614.0 801.1 L622.8 804.7 L377.8 950.7 Z" fill="#fff" stroke="#111" stroke-width="1.50" stroke-linejoin="round" stroke-linecap="round"/>
<line x1="378.5" y1="951.4" x2="623.5" y2="805.3" stroke="#111" stroke-width="1.50" stroke-linecap="round"/>
<path d="M386.7 954.4 L631.7 808.4 L640.5 812.1 L395.5 958.1 Z" fill="#fff" stroke="#111" stroke-width="1.50" stroke-linejoin="round" stroke-linecap="round"/>
<line x1="396.1" y1="958.7" x2="641.1" y2="812.7" stroke="#111" stroke-width="1.50" stroke-linecap="round"/>
<path d="M404.4 961.8 L649.4 815.7 L658.2 819.4 L413.2 965.4 Z" fill="#fff" stroke="#111" stroke-width="1.50" stroke-linejoin="round" stroke-linecap="round"/>
<line x1="413.8" y1="966.0" x2="658.8" y2="820.0" stroke="#111" stroke-width="1.50" stroke-linecap="round"/>
<path d="M422.1 969.1 L667.0 823.1 L675.8 826.7 L430.9 972.8 Z" fill="#fff" stroke="#111" stroke-width="1.50" stroke-linejoin="round" stroke-linecap="round"/>
<line x1="431.5" y1="973.4" x2="676.5" y2="827.4" stroke="#111" stroke-width="1.50" stroke-linecap="round"/>
<line x1="265.0" y1="794.6" x2="273.8" y2="798.3" stroke="#111" stroke-width="1.20" stroke-linecap="round"/>
<line x1="282.7" y1="802.0" x2="291.5" y2="805.6" stroke="#111" stroke-width="1.20" stroke-linecap="round"/>
<line x1="300.3" y1="809.3" x2="309.1" y2="813.0" stroke="#111" stroke-width="1.20" stroke-linecap="round"/>
<line x1="318.0" y1="816.7" x2="326.8" y2="820.3" stroke="#111" stroke-width="1.20" stroke-linecap="round"/>
<line x1="335.7" y1="824.0" x2="344.5" y2="827.6" stroke="#111" stroke-width="1.20" stroke-linecap="round"/>
<line x1="353.4" y1="831.3" x2="362.2" y2="835.0" stroke="#111" stroke-width="1.20" stroke-linecap="round"/>
<line x1="371.0" y1="838.7" x2="379.8" y2="842.3" stroke="#111" stroke-width="1.20" stroke-linecap="round"/>
<line x1="388.7" y1="846.0" x2="397.5" y2="849.7" stroke="#111" stroke-width="1.20" stroke-linecap="round"/>
<line x1="406.4" y1="853.4" x2="415.2" y2="857.0" stroke="#111" stroke-width="1.20" stroke-linecap="round"/>
<line x1="424.0" y1="860.7" x2="432.8" y2="864.4" stroke="#111" stroke-width="1.20" stroke-linecap="round"/>
<line x1="441.7" y1="868.0" x2="450.5" y2="871.7" stroke="#111" stroke-width="1.20" stroke-linecap="round"/>
<line x1="459.4" y1="875.4" x2="468.2" y2="879.0" stroke="#111" stroke-width="1.20" stroke-linecap="round"/>
<line x1="477.0" y1="882.7" x2="485.8" y2="886.4" stroke="#111" stroke-width="1.20" stroke-linecap="round"/>
<line x1="494.7" y1="890.1" x2="503.5" y2="893.7" stroke="#111" stroke-width="1.20" stroke-linecap="round"/>
<line x1="512.4" y1="897.4" x2="521.2" y2="901.1" stroke="#111" stroke-width="1.20" stroke-linecap="round"/>
<line x1="530.0" y1="904.7" x2="538.8" y2="908.4" stroke="#111" stroke-width="1.20" stroke-linecap="round"/>
<path d="M396.8 707.0 L686.9 828.0 L686.9 832.2 L400.8 711.6 Z" fill="#fff" stroke="#111" stroke-width="1.50" stroke-linejoin="round" stroke-linecap="round"/>
<path d="M404.5 714.6 L409.0 716.5 L409.0 719.6 L404.5 717.8 Z" fill="#fff" stroke="#111" stroke-width="1.20" stroke-linejoin="round" stroke-linecap="round"/>
<path d="M422.2 721.9 L426.7 723.8 L426.7 726.9 L422.2 725.1 Z" fill="#fff" stroke="#111" stroke-width="1.20" stroke-linejoin="round" stroke-linecap="round"/>
<path d="M439.8 729.3 L444.3 731.2 L444.3 734.3 L439.8 732.5 Z" fill="#fff" stroke="#111" stroke-width="1.20" stroke-linejoin="round" stroke-linecap="round"/>
<path d="M457.5 736.6 L462.0 738.5 L462.0 741.6 L457.5 739.8 Z" fill="#fff" stroke="#111" stroke-width="1.20" stroke-linejoin="round" stroke-linecap="round"/>
<path d="M475.2 743.9 L479.7 745.8 L479.7 748.9 L475.2 747.1 Z" fill="#fff" stroke="#111" stroke-width="1.20" stroke-linejoin="round" stroke-linecap="round"/>
<path d="M492.9 751.3 L497.4 753.2 L497.4 756.3 L492.9 754.5 Z" fill="#fff" stroke="#111" stroke-width="1.20" stroke-linejoin="round" stroke-linecap="round"/>
<path d="M510.5 758.6 L515.0 760.5 L515.0 763.6 L510.5 761.8 Z" fill="#fff" stroke="#111" stroke-width="1.20" stroke-linejoin="round" stroke-linecap="round"/>
<path d="M528.2 766.0 L532.7 767.9 L532.7 771.0 L528.2 769.2 Z" fill="#fff" stroke="#111" stroke-width="1.20" stroke-linejoin="round" stroke-linecap="round"/>
<path d="M545.9 773.3 L550.4 775.2 L550.4 778.3 L545.9 776.5 Z" fill="#fff" stroke="#111" stroke-width="1.20" stroke-linejoin="round" stroke-linecap="round"/>
<path d="M563.5 780.6 L568.0 782.5 L568.0 785.6 L563.5 783.8 Z" fill="#fff" stroke="#111" stroke-width="1.20" stroke-linejoin="round" stroke-linecap="round"/>
<path d="M581.2 788.0 L585.7 789.9 L585.7 793.0 L581.2 791.2 Z" fill="#fff" stroke="#111" stroke-width="1.20" stroke-linejoin="round" stroke-linecap="round"/>
<path d="M598.9 795.3 L603.4 797.2 L603.4 800.3 L598.9 798.5 Z" fill="#fff" stroke="#111" stroke-width="1.20" stroke-linejoin="round" stroke-linecap="round"/>
<path d="M616.5 802.7 L621.0 804.6 L621.0 807.7 L616.5 805.9 Z" fill="#fff" stroke="#111" stroke-width="1.20" stroke-linejoin="round" stroke-linecap="round"/>
<path d="M634.2 810.0 L638.7 811.9 L638.7 815.0 L634.2 813.2 Z" fill="#fff" stroke="#111" stroke-width="1.20" stroke-linejoin="round" stroke-linecap="round"/>
<path d="M651.9 817.3 L656.4 819.2 L656.4 822.3 L651.9 820.5 Z" fill="#fff" stroke="#111" stroke-width="1.20" stroke-linejoin="round" stroke-linecap="round"/>
<path d="M669.5 824.7 L674.0 826.6 L674.0 829.7 L669.5 827.9 Z" fill="#fff" stroke="#111" stroke-width="1.20" stroke-linejoin="round" stroke-linecap="round"/>
<path d="M686.9 828.0 L686.9 839.6 L683.7 840.6 L683.7 829.0 Z" fill="#fff" stroke="#111" stroke-width="1.50" stroke-linejoin="round" stroke-linecap="round"/>
<line x1="276.0" y1="783.2" x2="561.0" y2="901.8" stroke="#111" stroke-width="2.10" stroke-linecap="round"/>
<line x1="276.0" y1="785.9" x2="561.0" y2="904.5" stroke="#111" stroke-width="1.60" stroke-linecap="round"/>
<line x1="276.0" y1="788.6" x2="561.0" y2="907.2" stroke="#111" stroke-width="2.10" stroke-linecap="round"/>
<path d="M281.3 790.4 L281.3 794.4 L284.7 795.6 L284.7 791.8 Z" fill="#111" stroke="#111" stroke-width="0.80" stroke-linejoin="round" stroke-linecap="round"/>
<path d="M298.9 797.7 L298.9 801.7 L302.3 802.9 L302.3 799.1 Z" fill="#111" stroke="#111" stroke-width="0.80" stroke-linejoin="round" stroke-linecap="round"/>
<path d="M316.5 805.0 L316.5 809.0 L319.9 810.2 L319.9 806.4 Z" fill="#111" stroke="#111" stroke-width="0.80" stroke-linejoin="round" stroke-linecap="round"/>
<path d="M334.1 812.4 L334.1 816.4 L337.5 817.6 L337.5 813.8 Z" fill="#111" stroke="#111" stroke-width="0.80" stroke-linejoin="round" stroke-linecap="round"/>
<path d="M351.6 819.7 L351.6 823.7 L355.0 824.9 L355.0 821.1 Z" fill="#111" stroke="#111" stroke-width="0.80" stroke-linejoin="round" stroke-linecap="round"/>
<path d="M369.2 827.0 L369.2 831.0 L372.6 832.2 L372.6 828.4 Z" fill="#111" stroke="#111" stroke-width="0.80" stroke-linejoin="round" stroke-linecap="round"/>
<path d="M386.8 834.3 L386.8 838.3 L390.2 839.5 L390.2 835.7 Z" fill="#111" stroke="#111" stroke-width="0.80" stroke-linejoin="round" stroke-linecap="round"/>
<path d="M404.4 841.6 L404.4 845.6 L407.8 846.8 L407.8 843.0 Z" fill="#111" stroke="#111" stroke-width="0.80" stroke-linejoin="round" stroke-linecap="round"/>
<path d="M422.0 849.0 L422.0 853.0 L425.4 854.2 L425.4 850.4 Z" fill="#111" stroke="#111" stroke-width="0.80" stroke-linejoin="round" stroke-linecap="round"/>
<path d="M439.6 856.3 L439.6 860.3 L443.0 861.5 L443.0 857.7 Z" fill="#111" stroke="#111" stroke-width="0.80" stroke-linejoin="round" stroke-linecap="round"/>
<path d="M457.2 863.6 L457.2 867.6 L460.6 868.8 L460.6 865.0 Z" fill="#111" stroke="#111" stroke-width="0.80" stroke-linejoin="round" stroke-linecap="round"/>
<path d="M474.8 870.9 L474.8 874.9 L478.2 876.1 L478.2 872.3 Z" fill="#111" stroke="#111" stroke-width="0.80" stroke-linejoin="round" stroke-linecap="round"/>
<path d="M492.4 878.2 L492.4 882.2 L495.8 883.4 L495.8 879.6 Z" fill="#111" stroke="#111" stroke-width="0.80" stroke-linejoin="round" stroke-linecap="round"/>
<path d="M510.0 885.6 L510.0 889.6 L513.4 890.8 L513.4 887.0 Z" fill="#111" stroke="#111" stroke-width="0.80" stroke-linejoin="round" stroke-linecap="round"/>
<path d="M527.6 892.9 L527.6 896.9 L531.0 898.1 L531.0 894.3 Z" fill="#111" stroke="#111" stroke-width="0.80" stroke-linejoin="round" stroke-linecap="round"/>
<path d="M545.2 900.2 L545.2 904.2 L548.6 905.4 L548.6 901.6 Z" fill="#111" stroke="#111" stroke-width="0.80" stroke-linejoin="round" stroke-linecap="round"/>
<path d="M150.8 857.8 L435.3 975.6 L436.3 986.9 L150.8 867.3 Z" fill="#fff" stroke="#111" stroke-width="1.80" stroke-linejoin="round" stroke-linecap="round"/>
<path d="M145.8 856.0 L150.8 857.8 L150.8 867.3 L146.4 865.2 Z" fill="#fff" stroke="#111" stroke-width="1.80" stroke-linejoin="round" stroke-linecap="round"/>
<path d="M145.8 856.0 L150.8 857.8 L435.3 975.6 L431.0 972.8 L154.6 858.6 Z" fill="#fff" stroke="#111" stroke-width="1.20" stroke-linejoin="round" stroke-linecap="round"/>
<line x1="152.5" y1="856.9" x2="434.0" y2="973.4" stroke="#111" stroke-width="3.60" stroke-linecap="butt"/>
<line x1="156" y1="858.3" x2="432" y2="972.6" stroke="#fff" stroke-width="1.0" stroke-dasharray="6.5 11.2"/>
<circle cx="166.5" cy="871.5" r="1.5" fill="#111"/>
<circle cx="171.6" cy="873.6" r="1.5" fill="#111"/>
<circle cx="412.5" cy="973.8" r="1.5" fill="#111"/>
<circle cx="417.5" cy="975.9" r="1.5" fill="#111"/>
<circle cx="453.5" cy="973.2" r="1.5" fill="#111"/>
<circle cx="458.0" cy="970.6" r="1.5" fill="#111"/>
<circle cx="560.0" cy="908.6" r="1.5" fill="#111"/>
<circle cx="564.0" cy="906.4" r="1.5" fill="#111"/>
<circle cx="663.0" cy="848.6" r="1.5" fill="#111"/>
<circle cx="667.4" cy="846.0" r="1.5" fill="#111"/>
<path d="M167.5 855.0 L176.0 858.6 L176.6 866.0 L170.0 862.5 Z" fill="#fff" stroke="#111" stroke-width="1.30" stroke-linejoin="round" stroke-linecap="round"/>
<circle cx="171.8" cy="859.2" r="1.5" fill="#111"/>
<path d="M390.0 732.0 L412.0 719.2 L421.0 719.6 L399.0 732.6 Z" fill="#fff" stroke="#111" stroke-width="1.20" stroke-linejoin="round" stroke-linecap="round"/>
<line x1="396.0" y1="732.4" x2="407.0" y2="720.0" stroke="#111" stroke-width="1.10" stroke-linecap="round"/>
<line x1="400.5" y1="732.2" x2="417.0" y2="719.6" stroke="#111" stroke-width="1.10" stroke-linecap="round"/>
<path d="M660.0 824.0 L668.0 819.6 L669.0 828.0 L661.0 832.0 Z" fill="#fff" stroke="#111" stroke-width="1.20" stroke-linejoin="round" stroke-linecap="round"/>
<path d="M116.5 872.4 L409.5 995.2 L409.5 1004.0 L116.5 881.2 Z" fill="#fff" stroke="#111" stroke-width="1.80" stroke-linejoin="round" stroke-linecap="round"/>
<path d="M116.5 872.4 L119.1 870.2 L412.1 993.0 L409.5 995.2 Z" fill="#fff" stroke="#111" stroke-width="1.30" stroke-linejoin="round" stroke-linecap="round"/>
<path d="M409.5 995.2 L412.1 993.0 L412.1 1001.8 L409.5 1004.0 Z" fill="#fff" stroke="#111" stroke-width="1.40" stroke-linejoin="round" stroke-linecap="round"/>
<line x1="262.1" y1="931.4" x2="262.7" y2="942.2" stroke="#111" stroke-width="1.50" stroke-linecap="round"/>
<circle cx="129.7" cy="882.1" r="1.6" fill="#111"/>
<circle cx="189.8" cy="907.3" r="1.6" fill="#111"/>
<circle cx="249.8" cy="932.5" r="1.6" fill="#111"/>
<circle cx="273.3" cy="942.3" r="1.6" fill="#111"/>
<circle cx="334.8" cy="968.1" r="1.6" fill="#111"/>
<circle cx="396.3" cy="993.9" r="1.6" fill="#111"/>
<path d="M421.4 691.6 L711.6 811.2 L711.6 820.0 L421.4 700.4 Z" fill="#fff" stroke="#111" stroke-width="1.80" stroke-linejoin="round" stroke-linecap="round"/>
<path d="M421.4 691.6 L424.0 689.4 L714.2 809.0 L711.6 811.2 Z" fill="#fff" stroke="#111" stroke-width="1.30" stroke-linejoin="round" stroke-linecap="round"/>
<path d="M711.6 811.2 L714.2 809.0 L714.2 817.8 L711.6 820.0 Z" fill="#fff" stroke="#111" stroke-width="1.40" stroke-linejoin="round" stroke-linecap="round"/>
<line x1="565.6" y1="749.0" x2="566.2" y2="759.8" stroke="#111" stroke-width="1.50" stroke-linecap="round"/>
<circle cx="434.5" cy="701.2" r="1.6" fill="#111"/>
<circle cx="493.9" cy="725.7" r="1.6" fill="#111"/>
<circle cx="553.4" cy="750.2" r="1.6" fill="#111"/>
<circle cx="576.7" cy="759.8" r="1.6" fill="#111"/>
<circle cx="637.6" cy="784.9" r="1.6" fill="#111"/>
<circle cx="698.5" cy="810.0" r="1.6" fill="#111"/>
<path d="M82.2 920.0 L97.7 910.5 L99.4 907.4 L95.9 907.3 L79.8 915.8 Z" fill="#1a1a1a" stroke="#111" stroke-width="1.00" stroke-linejoin="round" stroke-linecap="round"/>
<line x1="84.6" y1="919.3" x2="83.0" y2="913.3" stroke="#fff" stroke-width="0.70" stroke-linecap="butt"/>
<line x1="85.4" y1="919.2" x2="84.8" y2="918.0" stroke="#111" stroke-width="1.40" stroke-linecap="round"/>
<line x1="82.2" y1="913.4" x2="82.8" y2="914.6" stroke="#111" stroke-width="1.40" stroke-linecap="round"/>
<line x1="87.4" y1="917.7" x2="85.8" y2="911.7" stroke="#fff" stroke-width="0.70" stroke-linecap="butt"/>
<line x1="88.2" y1="917.6" x2="87.6" y2="916.5" stroke="#111" stroke-width="1.40" stroke-linecap="round"/>
<line x1="84.9" y1="911.9" x2="85.6" y2="913.0" stroke="#111" stroke-width="1.40" stroke-linecap="round"/>
<line x1="90.2" y1="916.1" x2="88.6" y2="910.1" stroke="#fff" stroke-width="0.70" stroke-linecap="butt"/>
<line x1="91.0" y1="916.0" x2="90.4" y2="914.9" stroke="#111" stroke-width="1.40" stroke-linecap="round"/>
<line x1="87.7" y1="910.3" x2="88.4" y2="911.4" stroke="#111" stroke-width="1.40" stroke-linecap="round"/>
<line x1="92.9" y1="914.5" x2="91.3" y2="908.5" stroke="#fff" stroke-width="0.70" stroke-linecap="butt"/>
<line x1="93.8" y1="914.4" x2="93.1" y2="913.3" stroke="#111" stroke-width="1.40" stroke-linecap="round"/>
<line x1="90.5" y1="908.7" x2="91.1" y2="909.8" stroke="#111" stroke-width="1.40" stroke-linecap="round"/>
<line x1="95.7" y1="913.0" x2="94.1" y2="907.0" stroke="#fff" stroke-width="0.70" stroke-linecap="butt"/>
<line x1="96.6" y1="912.8" x2="95.9" y2="911.7" stroke="#111" stroke-width="1.40" stroke-linecap="round"/>
<line x1="93.3" y1="907.1" x2="93.9" y2="908.2" stroke="#111" stroke-width="1.40" stroke-linecap="round"/>
<circle cx="77.0" cy="920.2" r="5.8" fill="#fff" stroke="#111" stroke-width="1.50"/>
<circle cx="78.0" cy="919.6" r="3.6" fill="#fff" stroke="#111" stroke-width="0.90"/>
<line x1="75.7" y1="917.9" x2="78.3" y2="922.5" stroke="#111" stroke-width="1.00" stroke-linecap="round"/>
<line x1="75.1" y1="921.3" x2="79.3" y2="918.9" stroke="#111" stroke-width="1.00" stroke-linecap="round"/>
<path d="M142.6 945.2 L157.1 936.5 L158.8 933.5 L155.3 933.4 L140.3 941.0 Z" fill="#1a1a1a" stroke="#111" stroke-width="1.00" stroke-linejoin="round" stroke-linecap="round"/>
<line x1="145.0" y1="944.6" x2="143.5" y2="938.6" stroke="#fff" stroke-width="0.70" stroke-linecap="butt"/>
<line x1="145.9" y1="944.5" x2="145.2" y2="943.3" stroke="#111" stroke-width="1.40" stroke-linecap="round"/>
<line x1="142.6" y1="938.7" x2="143.3" y2="939.8" stroke="#111" stroke-width="1.40" stroke-linecap="round"/>
<line x1="147.8" y1="943.0" x2="146.3" y2="937.0" stroke="#fff" stroke-width="0.70" stroke-linecap="butt"/>
<line x1="148.7" y1="942.9" x2="148.0" y2="941.8" stroke="#111" stroke-width="1.40" stroke-linecap="round"/>
<line x1="145.4" y1="937.2" x2="146.1" y2="938.3" stroke="#111" stroke-width="1.40" stroke-linecap="round"/>
<line x1="150.6" y1="941.5" x2="149.1" y2="935.5" stroke="#fff" stroke-width="0.70" stroke-linecap="butt"/>
<line x1="151.4" y1="941.4" x2="150.8" y2="940.2" stroke="#111" stroke-width="1.40" stroke-linecap="round"/>
<line x1="148.2" y1="935.6" x2="148.9" y2="936.7" stroke="#111" stroke-width="1.40" stroke-linecap="round"/>
<line x1="153.4" y1="939.9" x2="151.9" y2="933.9" stroke="#fff" stroke-width="0.70" stroke-linecap="butt"/>
<line x1="154.2" y1="939.8" x2="153.6" y2="938.7" stroke="#111" stroke-width="1.40" stroke-linecap="round"/>
<line x1="151.0" y1="934.0" x2="151.7" y2="935.2" stroke="#111" stroke-width="1.40" stroke-linecap="round"/>
<circle cx="137.4" cy="945.4" r="5.8" fill="#fff" stroke="#111" stroke-width="1.50"/>
<circle cx="138.4" cy="944.8" r="3.6" fill="#fff" stroke="#111" stroke-width="0.90"/>
<line x1="136.1" y1="943.1" x2="138.7" y2="947.7" stroke="#111" stroke-width="1.00" stroke-linecap="round"/>
<line x1="135.5" y1="946.5" x2="139.7" y2="944.1" stroke="#111" stroke-width="1.00" stroke-linecap="round"/>
<path d="M202.0 969.2 L217.8 960.3 L219.6 957.3 L216.1 957.1 L199.8 964.9 Z" fill="#1a1a1a" stroke="#111" stroke-width="1.00" stroke-linejoin="round" stroke-linecap="round"/>
<line x1="204.4" y1="968.6" x2="203.1" y2="962.5" stroke="#fff" stroke-width="0.70" stroke-linecap="butt"/>
<line x1="205.3" y1="968.5" x2="204.7" y2="967.3" stroke="#111" stroke-width="1.40" stroke-linecap="round"/>
<line x1="202.2" y1="962.6" x2="202.8" y2="963.8" stroke="#111" stroke-width="1.40" stroke-linecap="round"/>
<line x1="207.3" y1="967.1" x2="205.9" y2="961.1" stroke="#fff" stroke-width="0.70" stroke-linecap="butt"/>
<line x1="208.1" y1="967.0" x2="207.5" y2="965.9" stroke="#111" stroke-width="1.40" stroke-linecap="round"/>
<line x1="205.1" y1="961.2" x2="205.7" y2="962.3" stroke="#111" stroke-width="1.40" stroke-linecap="round"/>
<line x1="210.1" y1="965.6" x2="208.7" y2="959.6" stroke="#fff" stroke-width="0.70" stroke-linecap="butt"/>
<line x1="211.0" y1="965.5" x2="210.3" y2="964.4" stroke="#111" stroke-width="1.40" stroke-linecap="round"/>
<line x1="207.9" y1="959.7" x2="208.5" y2="960.8" stroke="#111" stroke-width="1.40" stroke-linecap="round"/>
<line x1="212.9" y1="964.2" x2="211.6" y2="958.1" stroke="#fff" stroke-width="0.70" stroke-linecap="butt"/>
<line x1="213.8" y1="964.1" x2="213.2" y2="962.9" stroke="#111" stroke-width="1.40" stroke-linecap="round"/>
<line x1="210.7" y1="958.2" x2="211.3" y2="959.4" stroke="#111" stroke-width="1.40" stroke-linecap="round"/>
<line x1="215.8" y1="962.7" x2="214.4" y2="956.6" stroke="#fff" stroke-width="0.70" stroke-linecap="butt"/>
<line x1="216.6" y1="962.6" x2="216.0" y2="961.4" stroke="#111" stroke-width="1.40" stroke-linecap="round"/>
<line x1="213.6" y1="956.7" x2="214.2" y2="957.9" stroke="#111" stroke-width="1.40" stroke-linecap="round"/>
<circle cx="196.8" cy="969.2" r="5.8" fill="#fff" stroke="#111" stroke-width="1.50"/>
<circle cx="197.9" cy="968.6" r="3.6" fill="#fff" stroke="#111" stroke-width="0.90"/>
<line x1="195.6" y1="966.9" x2="198.0" y2="971.5" stroke="#111" stroke-width="1.00" stroke-linecap="round"/>
<line x1="194.8" y1="970.2" x2="199.1" y2="968.0" stroke="#111" stroke-width="1.00" stroke-linecap="round"/>
<path d="M228.1 978.6 L243.4 969.8 L245.2 966.8 L241.7 966.6 L225.9 974.4 Z" fill="#1a1a1a" stroke="#111" stroke-width="1.00" stroke-linejoin="round" stroke-linecap="round"/>
<line x1="230.5" y1="978.0" x2="229.1" y2="972.0" stroke="#fff" stroke-width="0.70" stroke-linecap="butt"/>
<line x1="231.4" y1="977.9" x2="230.8" y2="976.8" stroke="#111" stroke-width="1.40" stroke-linecap="round"/>
<line x1="228.3" y1="972.1" x2="228.9" y2="973.2" stroke="#111" stroke-width="1.40" stroke-linecap="round"/>
<line x1="233.3" y1="976.5" x2="231.9" y2="970.5" stroke="#fff" stroke-width="0.70" stroke-linecap="butt"/>
<line x1="234.2" y1="976.4" x2="233.6" y2="975.3" stroke="#111" stroke-width="1.40" stroke-linecap="round"/>
<line x1="231.1" y1="970.6" x2="231.7" y2="971.7" stroke="#111" stroke-width="1.40" stroke-linecap="round"/>
<line x1="236.2" y1="975.0" x2="234.8" y2="969.0" stroke="#fff" stroke-width="0.70" stroke-linecap="butt"/>
<line x1="237.0" y1="974.9" x2="236.4" y2="973.8" stroke="#111" stroke-width="1.40" stroke-linecap="round"/>
<line x1="233.9" y1="969.1" x2="234.5" y2="970.2" stroke="#111" stroke-width="1.40" stroke-linecap="round"/>
<line x1="239.0" y1="973.5" x2="237.6" y2="967.5" stroke="#fff" stroke-width="0.70" stroke-linecap="butt"/>
<line x1="239.8" y1="973.4" x2="239.2" y2="972.3" stroke="#111" stroke-width="1.40" stroke-linecap="round"/>
<line x1="236.7" y1="967.6" x2="237.3" y2="968.7" stroke="#111" stroke-width="1.40" stroke-linecap="round"/>
<line x1="241.8" y1="972.0" x2="240.4" y2="966.0" stroke="#fff" stroke-width="0.70" stroke-linecap="butt"/>
<line x1="242.7" y1="971.9" x2="242.1" y2="970.7" stroke="#111" stroke-width="1.40" stroke-linecap="round"/>
<line x1="239.6" y1="966.1" x2="240.2" y2="967.2" stroke="#111" stroke-width="1.40" stroke-linecap="round"/>
<circle cx="222.9" cy="978.7" r="5.8" fill="#fff" stroke="#111" stroke-width="1.50"/>
<circle cx="224.0" cy="978.1" r="3.6" fill="#fff" stroke="#111" stroke-width="0.90"/>
<line x1="221.7" y1="976.4" x2="224.1" y2="981.0" stroke="#111" stroke-width="1.00" stroke-linecap="round"/>
<line x1="221.0" y1="979.7" x2="225.2" y2="977.5" stroke="#111" stroke-width="1.00" stroke-linecap="round"/>
<path d="M289.8 1002.2 L304.3 993.5 L306.0 990.5 L302.5 990.4 L287.5 998.0 Z" fill="#1a1a1a" stroke="#111" stroke-width="1.00" stroke-linejoin="round" stroke-linecap="round"/>
<line x1="292.2" y1="1001.6" x2="290.7" y2="995.6" stroke="#fff" stroke-width="0.70" stroke-linecap="butt"/>
<line x1="293.1" y1="1001.5" x2="292.4" y2="1000.3" stroke="#111" stroke-width="1.40" stroke-linecap="round"/>
<line x1="289.8" y1="995.7" x2="290.5" y2="996.8" stroke="#111" stroke-width="1.40" stroke-linecap="round"/>
<line x1="295.0" y1="1000.0" x2="293.5" y2="994.0" stroke="#fff" stroke-width="0.70" stroke-linecap="butt"/>
<line x1="295.9" y1="999.9" x2="295.2" y2="998.8" stroke="#111" stroke-width="1.40" stroke-linecap="round"/>
<line x1="292.6" y1="994.2" x2="293.3" y2="995.3" stroke="#111" stroke-width="1.40" stroke-linecap="round"/>
<line x1="297.8" y1="998.5" x2="296.3" y2="992.5" stroke="#fff" stroke-width="0.70" stroke-linecap="butt"/>
<line x1="298.6" y1="998.4" x2="298.0" y2="997.2" stroke="#111" stroke-width="1.40" stroke-linecap="round"/>
<line x1="295.4" y1="992.6" x2="296.1" y2="993.7" stroke="#111" stroke-width="1.40" stroke-linecap="round"/>
<line x1="300.6" y1="996.9" x2="299.1" y2="990.9" stroke="#fff" stroke-width="0.70" stroke-linecap="butt"/>
<line x1="301.4" y1="996.8" x2="300.8" y2="995.7" stroke="#111" stroke-width="1.40" stroke-linecap="round"/>
<line x1="298.2" y1="991.0" x2="298.9" y2="992.2" stroke="#111" stroke-width="1.40" stroke-linecap="round"/>
<circle cx="284.6" cy="1002.4" r="5.8" fill="#fff" stroke="#111" stroke-width="1.50"/>
<circle cx="285.6" cy="1001.8" r="3.6" fill="#fff" stroke="#111" stroke-width="0.90"/>
<line x1="283.3" y1="1000.1" x2="285.9" y2="1004.7" stroke="#111" stroke-width="1.00" stroke-linecap="round"/>
<line x1="282.7" y1="1003.5" x2="286.9" y2="1001.1" stroke="#111" stroke-width="1.00" stroke-linecap="round"/>
<path d="M349.2 1026.3 L365.9 1017.3 L367.8 1014.3 L364.3 1014.0 L347.1 1022.0 Z" fill="#1a1a1a" stroke="#111" stroke-width="1.00" stroke-linejoin="round" stroke-linecap="round"/>
<line x1="351.6" y1="1025.7" x2="350.4" y2="1019.7" stroke="#fff" stroke-width="0.70" stroke-linecap="butt"/>
<line x1="352.5" y1="1025.6" x2="351.9" y2="1024.5" stroke="#111" stroke-width="1.40" stroke-linecap="round"/>
<line x1="349.5" y1="1019.7" x2="350.1" y2="1020.9" stroke="#111" stroke-width="1.40" stroke-linecap="round"/>
<line x1="354.5" y1="1024.3" x2="353.2" y2="1018.2" stroke="#fff" stroke-width="0.70" stroke-linecap="butt"/>
<line x1="355.4" y1="1024.2" x2="354.8" y2="1023.1" stroke="#111" stroke-width="1.40" stroke-linecap="round"/>
<line x1="352.4" y1="1018.3" x2="353.0" y2="1019.5" stroke="#111" stroke-width="1.40" stroke-linecap="round"/>
<line x1="357.4" y1="1022.9" x2="356.1" y2="1016.8" stroke="#fff" stroke-width="0.70" stroke-linecap="butt"/>
<line x1="358.2" y1="1022.8" x2="357.6" y2="1021.6" stroke="#111" stroke-width="1.40" stroke-linecap="round"/>
<line x1="355.3" y1="1016.9" x2="355.8" y2="1018.0" stroke="#111" stroke-width="1.40" stroke-linecap="round"/>
<line x1="360.2" y1="1021.4" x2="359.0" y2="1015.4" stroke="#fff" stroke-width="0.70" stroke-linecap="butt"/>
<line x1="361.1" y1="1021.4" x2="360.5" y2="1020.2" stroke="#111" stroke-width="1.40" stroke-linecap="round"/>
<line x1="358.1" y1="1015.4" x2="358.7" y2="1016.6" stroke="#111" stroke-width="1.40" stroke-linecap="round"/>
<line x1="363.1" y1="1020.0" x2="361.8" y2="1013.9" stroke="#fff" stroke-width="0.70" stroke-linecap="butt"/>
<line x1="363.9" y1="1019.9" x2="363.4" y2="1018.8" stroke="#111" stroke-width="1.40" stroke-linecap="round"/>
<line x1="361.0" y1="1014.0" x2="361.6" y2="1015.2" stroke="#111" stroke-width="1.40" stroke-linecap="round"/>
<circle cx="344.0" cy="1026.2" r="5.8" fill="#fff" stroke="#111" stroke-width="1.50"/>
<circle cx="345.1" cy="1025.7" r="3.6" fill="#fff" stroke="#111" stroke-width="0.90"/>
<line x1="342.8" y1="1023.9" x2="345.2" y2="1028.5" stroke="#111" stroke-width="1.00" stroke-linecap="round"/>
<line x1="342.0" y1="1027.2" x2="346.3" y2="1025.0" stroke="#111" stroke-width="1.00" stroke-linecap="round"/>
<path d="M105.5 905.2 L118.6 898.0 L120.4 901.3 L125.5 890.8 L113.9 889.5 L115.7 892.8 L102.7 900.0 Z" fill="#fff" stroke="#111" stroke-width="1.30" stroke-linejoin="round" stroke-linecap="round"/>
<path d="M165.0 931.4 L178.2 923.8 L180.0 927.1 L184.9 916.5 L173.3 915.4 L175.2 918.6 L162.0 926.2 Z" fill="#fff" stroke="#111" stroke-width="1.30" stroke-linejoin="round" stroke-linecap="round"/>
<path d="M224.3 955.2 L238.2 947.8 L240.0 951.1 L245.2 940.7 L233.6 939.2 L235.4 942.5 L221.5 949.8 Z" fill="#fff" stroke="#111" stroke-width="1.30" stroke-linejoin="round" stroke-linecap="round"/>
<path d="M250.4 965.7 L264.8 958.2 L266.5 961.5 L271.8 951.1 L260.3 949.5 L262.0 952.8 L247.6 960.3 Z" fill="#fff" stroke="#111" stroke-width="1.30" stroke-linejoin="round" stroke-linecap="round"/>
<path d="M311.3 989.3 L324.0 981.8 L325.9 985.0 L330.7 974.4 L319.1 973.4 L321.0 976.6 L308.3 984.1 Z" fill="#fff" stroke="#111" stroke-width="1.30" stroke-linejoin="round" stroke-linecap="round"/>
<path d="M371.6 1013.1 L385.6 1005.4 L387.4 1008.7 L392.5 998.2 L380.9 996.9 L382.7 1000.2 L368.8 1007.9 Z" fill="#fff" stroke="#111" stroke-width="1.30" stroke-linejoin="round" stroke-linecap="round"/>
<path d="M521.8 652.5 L505.9 661.2 L504.0 664.2 L507.5 664.4 L524.0 656.7 Z" fill="#1a1a1a" stroke="#111" stroke-width="1.00" stroke-linejoin="round" stroke-linecap="round"/>
<line x1="519.4" y1="653.0" x2="520.7" y2="659.1" stroke="#fff" stroke-width="0.70" stroke-linecap="butt"/>
<line x1="518.5" y1="653.1" x2="519.1" y2="654.3" stroke="#111" stroke-width="1.40" stroke-linecap="round"/>
<line x1="521.5" y1="659.0" x2="520.9" y2="657.8" stroke="#111" stroke-width="1.40" stroke-linecap="round"/>
<line x1="516.5" y1="654.5" x2="517.8" y2="660.5" stroke="#fff" stroke-width="0.70" stroke-linecap="butt"/>
<line x1="515.7" y1="654.6" x2="516.3" y2="655.7" stroke="#111" stroke-width="1.40" stroke-linecap="round"/>
<line x1="518.7" y1="660.4" x2="518.1" y2="659.3" stroke="#111" stroke-width="1.40" stroke-linecap="round"/>
<line x1="513.7" y1="655.9" x2="515.0" y2="662.0" stroke="#fff" stroke-width="0.70" stroke-linecap="butt"/>
<line x1="512.8" y1="656.0" x2="513.4" y2="657.2" stroke="#111" stroke-width="1.40" stroke-linecap="round"/>
<line x1="515.8" y1="661.9" x2="515.2" y2="660.7" stroke="#111" stroke-width="1.40" stroke-linecap="round"/>
<line x1="510.8" y1="657.4" x2="512.1" y2="663.4" stroke="#fff" stroke-width="0.70" stroke-linecap="butt"/>
<line x1="510.0" y1="657.5" x2="510.5" y2="658.6" stroke="#111" stroke-width="1.40" stroke-linecap="round"/>
<line x1="513.0" y1="663.3" x2="512.4" y2="662.2" stroke="#111" stroke-width="1.40" stroke-linecap="round"/>
<line x1="508.0" y1="658.8" x2="509.3" y2="664.9" stroke="#fff" stroke-width="0.70" stroke-linecap="butt"/>
<line x1="507.1" y1="658.9" x2="507.7" y2="660.1" stroke="#111" stroke-width="1.40" stroke-linecap="round"/>
<line x1="510.1" y1="664.8" x2="509.5" y2="663.6" stroke="#111" stroke-width="1.40" stroke-linecap="round"/>
<circle cx="527.0" cy="652.5" r="5.8" fill="#fff" stroke="#111" stroke-width="1.50"/>
<circle cx="525.9" cy="653.0" r="3.6" fill="#fff" stroke="#111" stroke-width="0.90"/>
<line x1="528.2" y1="654.8" x2="525.8" y2="650.2" stroke="#111" stroke-width="1.00" stroke-linecap="round"/>
<line x1="529.0" y1="651.5" x2="524.7" y2="653.7" stroke="#111" stroke-width="1.00" stroke-linecap="round"/>
<path d="M598.4 698.7 L582.9 708.0 L581.1 711.0 L584.6 711.1 L600.7 702.9 Z" fill="#1a1a1a" stroke="#111" stroke-width="1.00" stroke-linejoin="round" stroke-linecap="round"/>
<line x1="596.0" y1="699.4" x2="597.5" y2="705.4" stroke="#fff" stroke-width="0.70" stroke-linecap="butt"/>
<line x1="595.1" y1="699.5" x2="595.8" y2="700.6" stroke="#111" stroke-width="1.40" stroke-linecap="round"/>
<line x1="598.3" y1="705.3" x2="597.7" y2="704.1" stroke="#111" stroke-width="1.40" stroke-linecap="round"/>
<line x1="593.2" y1="700.9" x2="594.7" y2="706.9" stroke="#fff" stroke-width="0.70" stroke-linecap="butt"/>
<line x1="592.3" y1="701.0" x2="593.0" y2="702.2" stroke="#111" stroke-width="1.40" stroke-linecap="round"/>
<line x1="595.5" y1="706.8" x2="594.9" y2="705.7" stroke="#111" stroke-width="1.40" stroke-linecap="round"/>
<line x1="590.4" y1="702.5" x2="591.9" y2="708.5" stroke="#fff" stroke-width="0.70" stroke-linecap="butt"/>
<line x1="589.5" y1="702.6" x2="590.2" y2="703.7" stroke="#111" stroke-width="1.40" stroke-linecap="round"/>
<line x1="592.7" y1="708.4" x2="592.1" y2="707.2" stroke="#111" stroke-width="1.40" stroke-linecap="round"/>
<line x1="587.6" y1="704.0" x2="589.1" y2="710.0" stroke="#fff" stroke-width="0.70" stroke-linecap="butt"/>
<line x1="586.7" y1="704.1" x2="587.4" y2="705.3" stroke="#111" stroke-width="1.40" stroke-linecap="round"/>
<line x1="589.9" y1="709.9" x2="589.3" y2="708.8" stroke="#111" stroke-width="1.40" stroke-linecap="round"/>
<line x1="584.8" y1="705.5" x2="586.3" y2="711.6" stroke="#fff" stroke-width="0.70" stroke-linecap="butt"/>
<line x1="583.9" y1="705.7" x2="584.6" y2="706.8" stroke="#111" stroke-width="1.40" stroke-linecap="round"/>
<line x1="587.1" y1="711.5" x2="586.5" y2="710.3" stroke="#111" stroke-width="1.40" stroke-linecap="round"/>
<circle cx="603.6" cy="698.6" r="5.8" fill="#fff" stroke="#111" stroke-width="1.50"/>
<circle cx="602.5" cy="699.2" r="3.6" fill="#fff" stroke="#111" stroke-width="0.90"/>
<line x1="604.9" y1="700.9" x2="602.3" y2="696.3" stroke="#111" stroke-width="1.00" stroke-linecap="round"/>
<line x1="605.5" y1="697.5" x2="601.3" y2="699.9" stroke="#111" stroke-width="1.00" stroke-linecap="round"/>
<path d="M651.3 713.4 L635.8 722.6 L634.0 725.6 L637.5 725.7 L653.6 717.6 Z" fill="#1a1a1a" stroke="#111" stroke-width="1.00" stroke-linejoin="round" stroke-linecap="round"/>
<line x1="648.9" y1="714.0" x2="650.4" y2="720.0" stroke="#fff" stroke-width="0.70" stroke-linecap="butt"/>
<line x1="648.0" y1="714.1" x2="648.7" y2="715.3" stroke="#111" stroke-width="1.40" stroke-linecap="round"/>
<line x1="651.2" y1="719.9" x2="650.6" y2="718.8" stroke="#111" stroke-width="1.40" stroke-linecap="round"/>
<line x1="646.1" y1="715.5" x2="647.6" y2="721.6" stroke="#fff" stroke-width="0.70" stroke-linecap="butt"/>
<line x1="645.2" y1="715.7" x2="645.9" y2="716.8" stroke="#111" stroke-width="1.40" stroke-linecap="round"/>
<line x1="648.4" y1="721.5" x2="647.8" y2="720.3" stroke="#111" stroke-width="1.40" stroke-linecap="round"/>
<line x1="643.3" y1="717.1" x2="644.8" y2="723.1" stroke="#fff" stroke-width="0.70" stroke-linecap="butt"/>
<line x1="642.4" y1="717.2" x2="643.1" y2="718.3" stroke="#111" stroke-width="1.40" stroke-linecap="round"/>
<line x1="645.6" y1="723.0" x2="645.0" y2="721.9" stroke="#111" stroke-width="1.40" stroke-linecap="round"/>
<line x1="640.5" y1="718.6" x2="642.0" y2="724.7" stroke="#fff" stroke-width="0.70" stroke-linecap="butt"/>
<line x1="639.6" y1="718.7" x2="640.2" y2="719.9" stroke="#111" stroke-width="1.40" stroke-linecap="round"/>
<line x1="642.8" y1="724.5" x2="642.2" y2="723.4" stroke="#111" stroke-width="1.40" stroke-linecap="round"/>
<line x1="637.7" y1="720.2" x2="639.1" y2="726.2" stroke="#fff" stroke-width="0.70" stroke-linecap="butt"/>
<line x1="636.8" y1="720.3" x2="637.4" y2="721.4" stroke="#111" stroke-width="1.40" stroke-linecap="round"/>
<line x1="640.0" y1="726.1" x2="639.4" y2="724.9" stroke="#111" stroke-width="1.40" stroke-linecap="round"/>
<circle cx="656.5" cy="713.2" r="5.8" fill="#fff" stroke="#111" stroke-width="1.50"/>
<circle cx="655.4" cy="713.8" r="3.6" fill="#fff" stroke="#111" stroke-width="0.90"/>
<line x1="657.8" y1="715.5" x2="655.2" y2="711.0" stroke="#111" stroke-width="1.00" stroke-linecap="round"/>
<line x1="658.4" y1="712.2" x2="654.2" y2="714.5" stroke="#111" stroke-width="1.00" stroke-linecap="round"/>
<path d="M735.7 760.6 L720.2 769.9 L718.4 772.9 L721.9 773.0 L738.0 764.8 Z" fill="#1a1a1a" stroke="#111" stroke-width="1.00" stroke-linejoin="round" stroke-linecap="round"/>
<line x1="733.3" y1="761.3" x2="734.8" y2="767.3" stroke="#fff" stroke-width="0.70" stroke-linecap="butt"/>
<line x1="732.4" y1="761.4" x2="733.1" y2="762.5" stroke="#111" stroke-width="1.40" stroke-linecap="round"/>
<line x1="735.6" y1="767.2" x2="735.0" y2="766.0" stroke="#111" stroke-width="1.40" stroke-linecap="round"/>
<line x1="730.5" y1="762.8" x2="732.0" y2="768.8" stroke="#fff" stroke-width="0.70" stroke-linecap="butt"/>
<line x1="729.6" y1="762.9" x2="730.3" y2="764.1" stroke="#111" stroke-width="1.40" stroke-linecap="round"/>
<line x1="732.8" y1="768.7" x2="732.2" y2="767.6" stroke="#111" stroke-width="1.40" stroke-linecap="round"/>
<line x1="727.7" y1="764.4" x2="729.2" y2="770.4" stroke="#fff" stroke-width="0.70" stroke-linecap="butt"/>
<line x1="726.8" y1="764.5" x2="727.5" y2="765.6" stroke="#111" stroke-width="1.40" stroke-linecap="round"/>
<line x1="730.0" y1="770.3" x2="729.4" y2="769.1" stroke="#111" stroke-width="1.40" stroke-linecap="round"/>
<line x1="724.9" y1="765.9" x2="726.4" y2="771.9" stroke="#fff" stroke-width="0.70" stroke-linecap="butt"/>
<line x1="724.0" y1="766.0" x2="724.7" y2="767.2" stroke="#111" stroke-width="1.40" stroke-linecap="round"/>
<line x1="727.2" y1="771.8" x2="726.6" y2="770.7" stroke="#111" stroke-width="1.40" stroke-linecap="round"/>
<line x1="722.1" y1="767.4" x2="723.6" y2="773.5" stroke="#fff" stroke-width="0.70" stroke-linecap="butt"/>
<line x1="721.2" y1="767.6" x2="721.9" y2="768.7" stroke="#111" stroke-width="1.40" stroke-linecap="round"/>
<line x1="724.4" y1="773.4" x2="723.8" y2="772.2" stroke="#111" stroke-width="1.40" stroke-linecap="round"/>
<circle cx="740.9" cy="760.5" r="5.8" fill="#fff" stroke="#111" stroke-width="1.50"/>
<circle cx="739.8" cy="761.1" r="3.6" fill="#fff" stroke="#111" stroke-width="0.90"/>
<line x1="742.2" y1="762.8" x2="739.6" y2="758.2" stroke="#111" stroke-width="1.00" stroke-linecap="round"/>
<line x1="742.8" y1="759.4" x2="738.6" y2="761.8" stroke="#111" stroke-width="1.00" stroke-linecap="round"/>
<path d="M495.2 666.9 L482.9 674.6 L480.9 671.4 L476.5 682.2 L488.1 682.8 L486.1 679.7 L498.4 671.9 Z" fill="#fff" stroke="#111" stroke-width="1.30" stroke-linejoin="round" stroke-linecap="round"/>
<path d="M571.7 714.0 L559.5 721.5 L557.6 718.3 L553.0 729.0 L564.6 729.8 L562.7 726.6 L574.8 719.2 Z" fill="#fff" stroke="#111" stroke-width="1.30" stroke-linejoin="round" stroke-linecap="round"/>
<path d="M624.6 728.6 L612.8 735.2 L611.0 732.0 L606.0 742.5 L617.6 743.8 L615.8 740.5 L627.6 733.9 Z" fill="#fff" stroke="#111" stroke-width="1.30" stroke-linejoin="round" stroke-linecap="round"/>
<path d="M710.2 775.9 L698.1 783.1 L696.1 779.9 L691.4 790.5 L703.0 791.5 L701.1 788.2 L713.2 781.1 Z" fill="#fff" stroke="#111" stroke-width="1.30" stroke-linejoin="round" stroke-linecap="round"/>
</g>
<g id="step4">
<path d="M1173.5 693.0 L1182.7 696.2 L1182.7 742.7 L1173.5 737.0 Z" fill="#fff" stroke="#111" stroke-width="1.50" stroke-linejoin="round" stroke-linecap="round"/>
<path d="M1182.7 696.2 L1190.7 693.4 L1190.7 734.5 L1182.7 742.7 Z" fill="#fff" stroke="#111" stroke-width="1.50" stroke-linejoin="round" stroke-linecap="round"/>
<path d="M1173.5 693.0 L1180.7 690.2 L1190.7 693.4 L1182.7 696.2 Z" fill="#fff" stroke="#111" stroke-width="1.30" stroke-linejoin="round" stroke-linecap="round"/>
<path d="M1122.5 788.0 L1131.7 791.2 L1131.7 837.7 L1122.5 832.0 Z" fill="#fff" stroke="#111" stroke-width="1.50" stroke-linejoin="round" stroke-linecap="round"/>
<path d="M1131.7 791.2 L1139.7 788.4 L1139.7 829.5 L1131.7 837.7 Z" fill="#fff" stroke="#111" stroke-width="1.50" stroke-linejoin="round" stroke-linecap="round"/>
<path d="M1122.5 788.0 L1129.7 785.2 L1139.7 788.4 L1131.7 791.2 Z" fill="#fff" stroke="#111" stroke-width="1.30" stroke-linejoin="round" stroke-linecap="round"/>
<path d="M1268.5 850.0 L1277.7 853.2 L1277.7 899.7 L1268.5 894.0 Z" fill="#fff" stroke="#111" stroke-width="1.50" stroke-linejoin="round" stroke-linecap="round"/>
<path d="M1277.7 853.2 L1285.7 850.4 L1285.7 891.5 L1277.7 899.7 Z" fill="#fff" stroke="#111" stroke-width="1.50" stroke-linejoin="round" stroke-linecap="round"/>
<path d="M1268.5 850.0 L1275.7 847.2 L1285.7 850.4 L1277.7 853.2 Z" fill="#fff" stroke="#111" stroke-width="1.30" stroke-linejoin="round" stroke-linecap="round"/>
<line x1="880.3" y1="828.4" x2="1183.0" y2="648.0" stroke="#111" stroke-width="1.80" stroke-linecap="round"/>
<line x1="885.3" y1="830.4" x2="1188.0" y2="650.0" stroke="#111" stroke-width="1.40" stroke-linecap="round"/>
<line x1="890.5" y1="832.2" x2="1193.2" y2="651.8" stroke="#111" stroke-width="1.40" stroke-linecap="round"/>
<line x1="1227.0" y1="980.2" x2="1529.0" y2="802.6" stroke="#111" stroke-width="1.80" stroke-linecap="round"/>
<line x1="1227.0" y1="969.2" x2="1529.0" y2="791.6" stroke="#111" stroke-width="1.80" stroke-linecap="round"/>
<line x1="1227.0" y1="965.6" x2="1525.4" y2="790.1" stroke="#111" stroke-width="1.30" stroke-linecap="round"/>
<line x1="1227.0" y1="962.2" x2="1522.1" y2="788.7" stroke="#111" stroke-width="1.30" stroke-linecap="round"/>
<line x1="1227.0" y1="959.2" x2="1519.1" y2="787.5" stroke="#111" stroke-width="1.30" stroke-linecap="round"/>
<path d="M893.0 832.4 L1187.0 657.2 L1197.4 661.4 L903.4 836.7 Z" fill="#fff" stroke="#111" stroke-width="1.40" stroke-linejoin="round" stroke-linecap="round"/>
<line x1="904.0" y1="837.3" x2="1198.0" y2="662.1" stroke="#111" stroke-width="1.50" stroke-linecap="round"/>
<path d="M914.5 841.2 L1208.5 666.0 L1218.9 670.2 L924.9 845.4 Z" fill="#fff" stroke="#111" stroke-width="1.40" stroke-linejoin="round" stroke-linecap="round"/>
<line x1="925.5" y1="846.1" x2="1219.5" y2="670.8" stroke="#111" stroke-width="1.50" stroke-linecap="round"/>
<path d="M935.9 850.0 L1229.9 674.7 L1240.3 679.0 L946.3 854.2 Z" fill="#fff" stroke="#111" stroke-width="1.40" stroke-linejoin="round" stroke-linecap="round"/>
<line x1="946.9" y1="854.8" x2="1240.9" y2="679.6" stroke="#111" stroke-width="1.50" stroke-linecap="round"/>
<path d="M957.4 858.7 L1251.3 683.5 L1261.8 687.8 L967.8 863.0 Z" fill="#fff" stroke="#111" stroke-width="1.40" stroke-linejoin="round" stroke-linecap="round"/>
<line x1="968.4" y1="863.6" x2="1262.4" y2="688.4" stroke="#111" stroke-width="1.50" stroke-linecap="round"/>
<path d="M978.8 867.5 L1272.8 692.3 L1283.2 696.6 L989.2 871.8 Z" fill="#fff" stroke="#111" stroke-width="1.40" stroke-linejoin="round" stroke-linecap="round"/>
<line x1="989.8" y1="872.4" x2="1283.8" y2="697.2" stroke="#111" stroke-width="1.50" stroke-linecap="round"/>
<path d="M1000.2 876.3 L1294.2 701.1 L1304.7 705.3 L1010.6 880.6 Z" fill="#fff" stroke="#111" stroke-width="1.40" stroke-linejoin="round" stroke-linecap="round"/>
<line x1="1011.3" y1="881.2" x2="1305.3" y2="706.0" stroke="#111" stroke-width="1.50" stroke-linecap="round"/>
<path d="M1021.7 885.1 L1315.7 709.9 L1326.1 714.1 L1032.1 889.3 Z" fill="#fff" stroke="#111" stroke-width="1.40" stroke-linejoin="round" stroke-linecap="round"/>
<line x1="1032.7" y1="890.0" x2="1326.7" y2="714.7" stroke="#111" stroke-width="1.50" stroke-linecap="round"/>
<path d="M1043.2 893.9 L1337.2 718.6 L1347.6 722.9 L1053.6 898.1 Z" fill="#fff" stroke="#111" stroke-width="1.40" stroke-linejoin="round" stroke-linecap="round"/>
<line x1="1054.2" y1="898.7" x2="1348.2" y2="723.5" stroke="#111" stroke-width="1.50" stroke-linecap="round"/>
<path d="M1064.6 902.6 L1358.6 727.4 L1369.0 731.7 L1075.0 906.9 Z" fill="#fff" stroke="#111" stroke-width="1.40" stroke-linejoin="round" stroke-linecap="round"/>
<line x1="1075.6" y1="907.5" x2="1369.6" y2="732.3" stroke="#111" stroke-width="1.50" stroke-linecap="round"/>
<path d="M1086.0 911.4 L1380.0 736.2 L1390.5 740.5 L1096.5 915.7 Z" fill="#fff" stroke="#111" stroke-width="1.40" stroke-linejoin="round" stroke-linecap="round"/>
<line x1="1097.1" y1="916.3" x2="1391.1" y2="741.1" stroke="#111" stroke-width="1.50" stroke-linecap="round"/>
<path d="M1107.5 920.2 L1401.5 745.0 L1411.9 749.2 L1117.9 924.5 Z" fill="#fff" stroke="#111" stroke-width="1.40" stroke-linejoin="round" stroke-linecap="round"/>
<line x1="1118.5" y1="925.1" x2="1412.5" y2="749.9" stroke="#111" stroke-width="1.50" stroke-linecap="round"/>
<path d="M1129.0 929.0 L1423.0 753.8 L1433.4 758.0 L1139.4 933.2 Z" fill="#fff" stroke="#111" stroke-width="1.40" stroke-linejoin="round" stroke-linecap="round"/>
<line x1="1140.0" y1="933.9" x2="1434.0" y2="758.6" stroke="#111" stroke-width="1.50" stroke-linecap="round"/>
<path d="M1150.4 937.8 L1444.4 762.5 L1454.8 766.8 L1160.8 942.0 Z" fill="#fff" stroke="#111" stroke-width="1.40" stroke-linejoin="round" stroke-linecap="round"/>
<line x1="1161.4" y1="942.6" x2="1455.4" y2="767.4" stroke="#111" stroke-width="1.50" stroke-linecap="round"/>
<path d="M1171.8 946.5 L1465.8 771.3 L1476.2 775.6 L1182.2 950.8 Z" fill="#fff" stroke="#111" stroke-width="1.40" stroke-linejoin="round" stroke-linecap="round"/>
<line x1="1182.9" y1="951.4" x2="1476.9" y2="776.2" stroke="#111" stroke-width="1.50" stroke-linecap="round"/>
<path d="M1193.3 955.3 L1487.3 780.1 L1497.7 784.4 L1203.7 959.6 Z" fill="#fff" stroke="#111" stroke-width="1.40" stroke-linejoin="round" stroke-linecap="round"/>
<line x1="1204.3" y1="960.2" x2="1498.3" y2="785.0" stroke="#111" stroke-width="1.50" stroke-linecap="round"/>
<path d="M1214.8 964.1 L1508.8 788.9 L1519.2 793.1 L1225.2 968.4 Z" fill="#fff" stroke="#111" stroke-width="1.40" stroke-linejoin="round" stroke-linecap="round"/>
<line x1="1225.8" y1="969.0" x2="1519.8" y2="793.8" stroke="#111" stroke-width="1.50" stroke-linecap="round"/>
<line x1="1025.0" y1="753.7" x2="1035.4" y2="758.0" stroke="#111" stroke-width="1.20" stroke-linecap="round"/>
<line x1="1170.0" y1="667.3" x2="1180.4" y2="671.6" stroke="#111" stroke-width="1.20" stroke-linecap="round"/>
<line x1="1046.5" y1="762.5" x2="1056.9" y2="766.8" stroke="#111" stroke-width="1.20" stroke-linecap="round"/>
<line x1="1191.5" y1="676.1" x2="1201.9" y2="680.3" stroke="#111" stroke-width="1.20" stroke-linecap="round"/>
<line x1="1067.9" y1="771.3" x2="1078.3" y2="775.5" stroke="#111" stroke-width="1.20" stroke-linecap="round"/>
<line x1="1212.9" y1="684.9" x2="1223.3" y2="689.1" stroke="#111" stroke-width="1.20" stroke-linecap="round"/>
<line x1="1089.3" y1="780.1" x2="1099.8" y2="784.3" stroke="#111" stroke-width="1.20" stroke-linecap="round"/>
<line x1="1234.3" y1="693.7" x2="1244.8" y2="697.9" stroke="#111" stroke-width="1.20" stroke-linecap="round"/>
<line x1="1110.8" y1="788.9" x2="1121.2" y2="793.1" stroke="#111" stroke-width="1.20" stroke-linecap="round"/>
<line x1="1255.8" y1="702.4" x2="1266.2" y2="706.7" stroke="#111" stroke-width="1.20" stroke-linecap="round"/>
<line x1="1132.2" y1="797.6" x2="1142.7" y2="801.9" stroke="#111" stroke-width="1.20" stroke-linecap="round"/>
<line x1="1277.2" y1="711.2" x2="1287.7" y2="715.5" stroke="#111" stroke-width="1.20" stroke-linecap="round"/>
<line x1="1153.7" y1="806.4" x2="1164.1" y2="810.7" stroke="#111" stroke-width="1.20" stroke-linecap="round"/>
<line x1="1298.7" y1="720.0" x2="1309.1" y2="724.2" stroke="#111" stroke-width="1.20" stroke-linecap="round"/>
<line x1="1175.2" y1="815.2" x2="1185.6" y2="819.4" stroke="#111" stroke-width="1.20" stroke-linecap="round"/>
<line x1="1320.2" y1="728.8" x2="1330.6" y2="733.0" stroke="#111" stroke-width="1.20" stroke-linecap="round"/>
<line x1="1196.6" y1="824.0" x2="1207.0" y2="828.2" stroke="#111" stroke-width="1.20" stroke-linecap="round"/>
<line x1="1341.6" y1="737.6" x2="1352.0" y2="741.8" stroke="#111" stroke-width="1.20" stroke-linecap="round"/>
<line x1="1218.0" y1="832.8" x2="1228.5" y2="837.0" stroke="#111" stroke-width="1.20" stroke-linecap="round"/>
<line x1="1363.0" y1="746.3" x2="1373.5" y2="750.6" stroke="#111" stroke-width="1.20" stroke-linecap="round"/>
<line x1="1239.5" y1="841.5" x2="1249.9" y2="845.8" stroke="#111" stroke-width="1.20" stroke-linecap="round"/>
<line x1="1384.5" y1="755.1" x2="1394.9" y2="759.4" stroke="#111" stroke-width="1.20" stroke-linecap="round"/>
<line x1="1261.0" y1="850.3" x2="1271.4" y2="854.6" stroke="#111" stroke-width="1.20" stroke-linecap="round"/>
<line x1="1406.0" y1="763.9" x2="1416.4" y2="768.1" stroke="#111" stroke-width="1.20" stroke-linecap="round"/>
<line x1="1282.4" y1="859.1" x2="1292.8" y2="863.3" stroke="#111" stroke-width="1.20" stroke-linecap="round"/>
<line x1="1427.4" y1="772.7" x2="1437.8" y2="776.9" stroke="#111" stroke-width="1.20" stroke-linecap="round"/>
<line x1="1303.8" y1="867.9" x2="1314.2" y2="872.1" stroke="#111" stroke-width="1.20" stroke-linecap="round"/>
<line x1="1448.8" y1="781.5" x2="1459.2" y2="785.7" stroke="#111" stroke-width="1.20" stroke-linecap="round"/>
<line x1="1325.3" y1="876.7" x2="1335.7" y2="880.9" stroke="#111" stroke-width="1.20" stroke-linecap="round"/>
<line x1="1470.3" y1="790.2" x2="1480.7" y2="794.5" stroke="#111" stroke-width="1.20" stroke-linecap="round"/>
<line x1="1346.8" y1="885.4" x2="1357.2" y2="889.7" stroke="#111" stroke-width="1.20" stroke-linecap="round"/>
<line x1="1491.8" y1="799.0" x2="1502.2" y2="803.3" stroke="#111" stroke-width="1.20" stroke-linecap="round"/>
<path d="M1183.0 648.0 L1528.0 791.0 L1528.0 795.6 L1187.6 653.0 Z" fill="#fff" stroke="#111" stroke-width="1.50" stroke-linejoin="round" stroke-linecap="round"/>
<path d="M1190.0 659.0 L1194.8 661.0 L1194.8 664.6 L1190.0 662.6 Z" fill="#fff" stroke="#111" stroke-width="1.20" stroke-linejoin="round" stroke-linecap="round"/>
<path d="M1211.5 667.8 L1216.2 669.8 L1216.2 673.4 L1211.5 671.4 Z" fill="#fff" stroke="#111" stroke-width="1.20" stroke-linejoin="round" stroke-linecap="round"/>
<path d="M1232.9 676.5 L1237.7 678.5 L1237.7 682.1 L1232.9 680.1 Z" fill="#fff" stroke="#111" stroke-width="1.20" stroke-linejoin="round" stroke-linecap="round"/>
<path d="M1254.3 685.3 L1259.1 687.3 L1259.1 690.9 L1254.3 688.9 Z" fill="#fff" stroke="#111" stroke-width="1.20" stroke-linejoin="round" stroke-linecap="round"/>
<path d="M1275.8 694.1 L1280.6 696.1 L1280.6 699.7 L1275.8 697.7 Z" fill="#fff" stroke="#111" stroke-width="1.20" stroke-linejoin="round" stroke-linecap="round"/>
<path d="M1297.2 702.9 L1302.0 704.9 L1302.0 708.5 L1297.2 706.5 Z" fill="#fff" stroke="#111" stroke-width="1.20" stroke-linejoin="round" stroke-linecap="round"/>
<path d="M1318.7 711.7 L1323.5 713.7 L1323.5 717.3 L1318.7 715.3 Z" fill="#fff" stroke="#111" stroke-width="1.20" stroke-linejoin="round" stroke-linecap="round"/>
<path d="M1340.2 720.4 L1345.0 722.4 L1345.0 726.0 L1340.2 724.0 Z" fill="#fff" stroke="#111" stroke-width="1.20" stroke-linejoin="round" stroke-linecap="round"/>
<path d="M1361.6 729.2 L1366.4 731.2 L1366.4 734.8 L1361.6 732.8 Z" fill="#fff" stroke="#111" stroke-width="1.20" stroke-linejoin="round" stroke-linecap="round"/>
<path d="M1383.0 738.0 L1387.8 740.0 L1387.8 743.6 L1383.0 741.6 Z" fill="#fff" stroke="#111" stroke-width="1.20" stroke-linejoin="round" stroke-linecap="round"/>
<path d="M1404.5 746.8 L1409.3 748.8 L1409.3 752.4 L1404.5 750.4 Z" fill="#fff" stroke="#111" stroke-width="1.20" stroke-linejoin="round" stroke-linecap="round"/>
<path d="M1426.0 755.6 L1430.8 757.6 L1430.8 761.2 L1426.0 759.2 Z" fill="#fff" stroke="#111" stroke-width="1.20" stroke-linejoin="round" stroke-linecap="round"/>
<path d="M1447.4 764.3 L1452.2 766.3 L1452.2 769.9 L1447.4 767.9 Z" fill="#fff" stroke="#111" stroke-width="1.20" stroke-linejoin="round" stroke-linecap="round"/>
<path d="M1468.8 773.1 L1473.6 775.1 L1473.6 778.7 L1468.8 776.7 Z" fill="#fff" stroke="#111" stroke-width="1.20" stroke-linejoin="round" stroke-linecap="round"/>
<path d="M1490.3 781.9 L1495.1 783.9 L1495.1 787.5 L1490.3 785.5 Z" fill="#fff" stroke="#111" stroke-width="1.20" stroke-linejoin="round" stroke-linecap="round"/>
<path d="M1511.8 790.7 L1516.5 792.7 L1516.5 796.3 L1511.8 794.3 Z" fill="#fff" stroke="#111" stroke-width="1.20" stroke-linejoin="round" stroke-linecap="round"/>
<path d="M1528.0 791.0 L1528.0 802.6 L1524.6 803.8 L1524.6 792.0 Z" fill="#fff" stroke="#111" stroke-width="1.50" stroke-linejoin="round" stroke-linecap="round"/>
<line x1="1036.0" y1="736.6" x2="1374.0" y2="877.8" stroke="#111" stroke-width="2.20" stroke-linecap="round"/>
<line x1="1036.0" y1="739.7" x2="1374.0" y2="880.9" stroke="#111" stroke-width="1.70" stroke-linecap="round"/>
<line x1="1036.0" y1="742.8" x2="1374.0" y2="884.0" stroke="#111" stroke-width="2.20" stroke-linecap="round"/>
<path d="M1042.3 744.8 L1042.3 749.2 L1046.1 750.6 L1046.1 746.4 Z" fill="#111" stroke="#111" stroke-width="0.80" stroke-linejoin="round" stroke-linecap="round"/>
<path d="M1063.1 753.5 L1063.1 757.9 L1066.9 759.3 L1066.9 755.1 Z" fill="#111" stroke="#111" stroke-width="0.80" stroke-linejoin="round" stroke-linecap="round"/>
<path d="M1084.0 762.2 L1084.0 766.6 L1087.8 768.0 L1087.8 763.8 Z" fill="#111" stroke="#111" stroke-width="0.80" stroke-linejoin="round" stroke-linecap="round"/>
<path d="M1104.9 771.0 L1104.9 775.4 L1108.7 776.8 L1108.7 772.6 Z" fill="#111" stroke="#111" stroke-width="0.80" stroke-linejoin="round" stroke-linecap="round"/>
<path d="M1125.7 779.7 L1125.7 784.1 L1129.5 785.5 L1129.5 781.3 Z" fill="#111" stroke="#111" stroke-width="0.80" stroke-linejoin="round" stroke-linecap="round"/>
<path d="M1146.6 788.4 L1146.6 792.8 L1150.4 794.2 L1150.4 790.0 Z" fill="#111" stroke="#111" stroke-width="0.80" stroke-linejoin="round" stroke-linecap="round"/>
<path d="M1167.4 797.1 L1167.4 801.5 L1171.2 802.9 L1171.2 798.7 Z" fill="#111" stroke="#111" stroke-width="0.80" stroke-linejoin="round" stroke-linecap="round"/>
<path d="M1188.3 805.8 L1188.3 810.2 L1192.1 811.6 L1192.1 807.4 Z" fill="#111" stroke="#111" stroke-width="0.80" stroke-linejoin="round" stroke-linecap="round"/>
<path d="M1209.2 814.5 L1209.2 818.9 L1213.0 820.3 L1213.0 816.1 Z" fill="#111" stroke="#111" stroke-width="0.80" stroke-linejoin="round" stroke-linecap="round"/>
<path d="M1230.0 823.3 L1230.0 827.7 L1233.8 829.1 L1233.8 824.9 Z" fill="#111" stroke="#111" stroke-width="0.80" stroke-linejoin="round" stroke-linecap="round"/>
<path d="M1250.9 832.0 L1250.9 836.4 L1254.7 837.8 L1254.7 833.6 Z" fill="#111" stroke="#111" stroke-width="0.80" stroke-linejoin="round" stroke-linecap="round"/>
<path d="M1271.8 840.7 L1271.8 845.1 L1275.6 846.5 L1275.6 842.3 Z" fill="#111" stroke="#111" stroke-width="0.80" stroke-linejoin="round" stroke-linecap="round"/>
<path d="M1292.6 849.4 L1292.6 853.8 L1296.4 855.2 L1296.4 851.0 Z" fill="#111" stroke="#111" stroke-width="0.80" stroke-linejoin="round" stroke-linecap="round"/>
<path d="M1313.5 858.1 L1313.5 862.5 L1317.3 863.9 L1317.3 859.7 Z" fill="#111" stroke="#111" stroke-width="0.80" stroke-linejoin="round" stroke-linecap="round"/>
<path d="M1334.4 866.8 L1334.4 871.2 L1338.2 872.6 L1338.2 868.4 Z" fill="#111" stroke="#111" stroke-width="0.80" stroke-linejoin="round" stroke-linecap="round"/>
<path d="M1355.2 875.6 L1355.2 880.0 L1359.0 881.4 L1359.0 877.2 Z" fill="#111" stroke="#111" stroke-width="0.80" stroke-linejoin="round" stroke-linecap="round"/>
<path d="M885.6 830.4 L1225.0 969.2 L1224.2 980.2 L885.6 841.4 Z" fill="#fff" stroke="#111" stroke-width="1.80" stroke-linejoin="round" stroke-linecap="round"/>
<path d="M880.3 828.4 L885.6 830.4 L885.6 841.4 L880.6 839.4 Z" fill="#fff" stroke="#111" stroke-width="1.80" stroke-linejoin="round" stroke-linecap="round"/>
<path d="M880.3 828.4 L885.6 830.4 L1225.0 969.2 L1220.0 966.0 L890.0 831.4 Z" fill="#fff" stroke="#111" stroke-width="1.20" stroke-linejoin="round" stroke-linecap="round"/>
<line x1="887.5" y1="829.2" x2="1223.5" y2="966.6" stroke="#111" stroke-width="3.80" stroke-linecap="butt"/>
<line x1="891" y1="830.6" x2="1221" y2="965.6" stroke="#fff" stroke-width="1.0" stroke-dasharray="8 13.4"/>
<line x1="1053.0" y1="899.5" x2="1053.6" y2="911.0" stroke="#111" stroke-width="1.60" stroke-linecap="round"/>
<circle cx="893.3" cy="839.6" r="1.6" fill="#111"/>
<circle cx="965.8" cy="869.5" r="1.6" fill="#111"/>
<circle cx="1037.8" cy="899.9" r="1.6" fill="#111"/>
<circle cx="1064.8" cy="911.2" r="1.6" fill="#111"/>
<circle cx="1137.3" cy="941.6" r="1.6" fill="#111"/>
<circle cx="1209.5" cy="972.0" r="1.6" fill="#111"/>
<circle cx="1247.0" cy="966.2" r="1.5" fill="#111"/>
<circle cx="1252.0" cy="963.4" r="1.5" fill="#111"/>
<circle cx="1382.0" cy="885.0" r="1.5" fill="#111"/>
<circle cx="1386.6" cy="882.4" r="1.5" fill="#111"/>
<circle cx="1500.0" cy="814.6" r="1.5" fill="#111"/>
<circle cx="1504.5" cy="812.0" r="1.5" fill="#111"/>
<path d="M912.0 826.0 L921.0 829.6 L921.6 837.4 L914.4 834.0 Z" fill="#fff" stroke="#111" stroke-width="1.30" stroke-linejoin="round" stroke-linecap="round"/>
<circle cx="916.4" cy="830.2" r="1.5" fill="#111"/>
<path d="M1163.0 677.5 L1190.0 661.5 L1200.0 662.0 L1173.0 678.2 Z" fill="#fff" stroke="#111" stroke-width="1.20" stroke-linejoin="round" stroke-linecap="round"/>
<line x1="1170.0" y1="678.0" x2="1183.0" y2="662.0" stroke="#111" stroke-width="1.10" stroke-linecap="round"/>
<line x1="1175.5" y1="677.8" x2="1195.0" y2="662.0" stroke="#111" stroke-width="1.10" stroke-linecap="round"/>
<path d="M1494.0 786.0 L1503.0 781.0 L1504.0 790.4 L1495.0 795.0 Z" fill="#fff" stroke="#111" stroke-width="1.20" stroke-linejoin="round" stroke-linecap="round"/>
<path d="M906.2 856.5 L915.4 859.7 L915.4 904.2 L906.2 898.5 Z" fill="#fff" stroke="#111" stroke-width="1.50" stroke-linejoin="round" stroke-linecap="round"/>
<path d="M915.4 859.7 L923.4 856.9 L923.4 896.0 L915.4 904.2 Z" fill="#fff" stroke="#111" stroke-width="1.50" stroke-linejoin="round" stroke-linecap="round"/>
<path d="M906.2 856.5 L913.4 853.7 L923.4 856.9 L915.4 859.7 Z" fill="#fff" stroke="#111" stroke-width="1.30" stroke-linejoin="round" stroke-linecap="round"/>
<path d="M917.1 936.5 L917.1 924.5 L920.8 924.5 L914.0 915.0 L907.2 924.5 L910.9 924.5 L910.9 936.5 Z" fill="#fff" stroke="#111" stroke-width="1.40" stroke-linejoin="round" stroke-linecap="round"/>
<path d="M1215.8 986.7 L1225.0 989.9 L1225.0 1034.4 L1215.8 1028.7 Z" fill="#fff" stroke="#111" stroke-width="1.50" stroke-linejoin="round" stroke-linecap="round"/>
<path d="M1225.0 989.9 L1233.0 987.1 L1233.0 1026.2 L1225.0 1034.4 Z" fill="#fff" stroke="#111" stroke-width="1.50" stroke-linejoin="round" stroke-linecap="round"/>
<path d="M1215.8 986.7 L1223.0 983.9 L1233.0 987.1 L1225.0 989.9 Z" fill="#fff" stroke="#111" stroke-width="1.30" stroke-linejoin="round" stroke-linecap="round"/>
<path d="M1229.8 1063.3 L1229.8 1050.3 L1233.5 1050.3 L1226.7 1040.8 L1220.0 1050.3 L1223.6 1050.3 L1223.6 1063.3 Z" fill="#fff" stroke="#111" stroke-width="1.40" stroke-linejoin="round" stroke-linecap="round"/>
<path d="M1483.7 828.5 L1492.9 831.7 L1492.9 876.2 L1483.7 870.5 Z" fill="#fff" stroke="#111" stroke-width="1.50" stroke-linejoin="round" stroke-linecap="round"/>
<path d="M1492.9 831.7 L1500.9 828.9 L1500.9 868.0 L1492.9 876.2 Z" fill="#fff" stroke="#111" stroke-width="1.50" stroke-linejoin="round" stroke-linecap="round"/>
<path d="M1483.7 828.5 L1490.9 825.7 L1500.9 828.9 L1492.9 831.7 Z" fill="#fff" stroke="#111" stroke-width="1.30" stroke-linejoin="round" stroke-linecap="round"/>
<path d="M1496.3 909.8 L1496.3 897.9 L1500.0 897.9 L1493.2 888.4 L1486.5 897.9 L1490.1 897.9 L1490.1 909.8 Z" fill="#fff" stroke="#111" stroke-width="1.40" stroke-linejoin="round" stroke-linecap="round"/>
</g>
</svg>
</body></html>
